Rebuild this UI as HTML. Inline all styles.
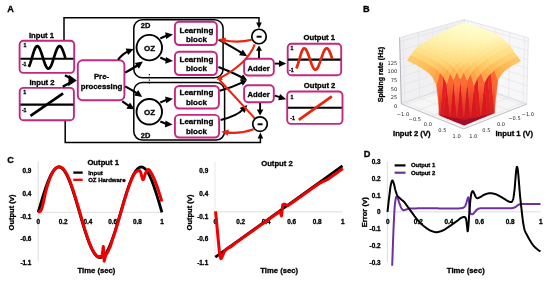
<!DOCTYPE html>
<html><head><meta charset="utf-8"><title>Figure</title>
<style>
html,body{margin:0;padding:0;background:#fff;}
svg{display:block;font-family:"Liberation Sans",sans-serif;}
.dj{font-family:"DejaVu Sans","Liberation Sans",sans-serif;}
</style></head><body>
<svg width="550" height="281" viewBox="0 0 550 281">
<rect width="550" height="281" fill="#fff"/>
<text x="7.20" y="12.00" font-size="9.20" text-anchor="start" font-weight="bold" fill="#000" stroke="#000" stroke-width="0.3" >A</text>
<path d="M64,41 V17.7 H259 V24" fill="none" stroke="#000" stroke-width="1.5"/>
<polygon points="259.00,28.40 256.20,22.60 261.80,22.60" fill="#000"/>
<path d="M65.2,120.4 V142.6 H260.4 V138" fill="none" stroke="#000" stroke-width="1.5"/>
<polygon points="260.40,132.60 263.20,138.40 257.60,138.40" fill="#000"/>
<rect x="133.80" y="19.80" width="89.30" height="58.00" rx="8.50" fill="none" stroke="#000" stroke-width="1.50"/>
<rect x="133.80" y="82.50" width="90.80" height="57.60" rx="8.50" fill="none" stroke="#000" stroke-width="1.50"/>
<path d="M149.3,74 V85" stroke="#000" stroke-width="1.1" stroke-dasharray="1.2,1.6"/>
<text x="140.80" y="27.70" font-size="7.50" text-anchor="start" font-weight="bold" fill="#000" stroke="#000" stroke-width="0.3" >2D</text>
<text x="140.80" y="137.80" font-size="7.50" text-anchor="start" font-weight="bold" fill="#000" stroke="#000" stroke-width="0.3" >2D</text>
<text x="41.50" y="38.30" font-size="7.70" text-anchor="middle" font-weight="bold" fill="#000" stroke="#000" stroke-width="0.3" >Input 1</text>
<rect x="19.60" y="40.70" width="54.60" height="32.20" rx="3.80" fill="#fff" stroke="#c4277f" stroke-width="1.90"/>
<path d="M20.4,58.7 H73.4" stroke="#000" stroke-width="2.1"/>
<path d="M28.80,66.91 L29.26,65.96 L29.71,64.85 L30.17,63.59 L30.63,62.21 L31.09,60.74 L31.55,59.20 L32.00,57.62 L32.46,56.05 L32.92,54.49 L33.38,53.00 L33.83,51.59 L34.29,50.29 L34.75,49.14 L35.20,48.14 L35.66,47.33 L36.12,46.71 L36.58,46.30 L37.04,46.11 L37.49,46.14 L37.95,46.35 L38.41,46.74 L38.87,47.31 L39.32,48.04 L39.78,48.93 L40.24,49.96 L40.70,51.11 L41.15,52.36 L41.61,53.70 L42.07,55.09 L42.53,56.53 L42.98,57.98 L43.44,59.42 L43.90,60.82 L44.36,62.17 L44.81,63.45 L45.27,64.62 L45.73,65.67 L46.19,66.59 L46.64,67.35 L47.10,67.96 L47.56,68.39 L48.02,68.63 L48.47,68.70 L48.93,68.58 L49.39,68.27 L49.84,67.78 L50.30,67.13 L50.76,66.31 L51.22,65.35 L51.68,64.26 L52.13,63.05 L52.59,61.75 L53.05,60.38 L53.51,58.96 L53.96,57.52 L54.42,56.07 L54.88,54.65 L55.34,53.27 L55.79,51.95 L56.25,50.73 L56.71,49.62 L57.17,48.63 L57.62,47.79 L58.08,47.11 L58.54,46.60 L59.00,46.26 L59.45,46.11 L59.91,46.14 L60.37,46.36 L60.83,46.76 L61.28,47.34 L61.74,48.08 L62.20,48.97 L62.66,50.00 L63.11,51.16 L63.57,52.41 L64.03,53.75 L64.49,55.15 L64.94,56.58 L65.40,58.03" fill="none" stroke="#000" stroke-width="2.7" stroke-linecap="butt"/>
<text x="25.00" y="47.00" font-size="5.20" text-anchor="middle" font-weight="bold" fill="#000" stroke="#000" stroke-width="0.3" >1</text>
<text x="24.20" y="65.50" font-size="5.20" text-anchor="middle" font-weight="bold" fill="#000" stroke="#000" stroke-width="0.3" >-1</text>
<text x="42.00" y="84.90" font-size="7.70" text-anchor="middle" font-weight="bold" fill="#000" stroke="#000" stroke-width="0.3" >Input 2</text>
<rect x="19.70" y="87.90" width="54.20" height="32.30" rx="3.80" fill="#fff" stroke="#c4277f" stroke-width="1.90"/>
<path d="M20.4,104.6 H73.4" stroke="#000" stroke-width="2.1"/>
<path d="M30.5,115.8 L63.1,93.4" stroke="#000" stroke-width="2.7"/>
<text x="24.70" y="93.50" font-size="5.20" text-anchor="middle" font-weight="bold" fill="#000" stroke="#000" stroke-width="0.3" >1</text>
<text x="24.20" y="111.60" font-size="5.20" text-anchor="middle" font-weight="bold" fill="#000" stroke="#000" stroke-width="0.3" >-1</text>
<path d="M65,75.3 Q68.5,77.2 72.5,79.6 M62.8,86.6 Q67.5,84.2 72.5,81.2" fill="none" stroke="#000" stroke-width="2.4"/>
<polygon points="76.8,80.4 68.8,74.8 68.2,86.2" fill="#000"/>
<rect x="77.80" y="60.20" width="46.60" height="40.00" rx="5.00" fill="#fff" stroke="#c4277f" stroke-width="1.90"/>
<text x="101.50" y="78.60" font-size="7.80" text-anchor="middle" font-weight="bold" fill="#000" stroke="#000" stroke-width="0.3" >Pre-</text>
<text x="101.50" y="88.50" font-size="7.80" text-anchor="middle" font-weight="bold" fill="#000" stroke="#000" stroke-width="0.3" >processing</text>
<path d="M118.00,59.60 Q123.50,53.00 128.96,50.93" fill="none" stroke="#000" stroke-width="2.20"/><polygon points="133.80,49.10 128.12,54.99 125.64,48.45" fill="#000"/>
<path d="M125.20,72.60 Q134.50,67.50 138.68,64.51" fill="none" stroke="#000" stroke-width="2.20"/><polygon points="142.90,61.50 138.91,68.65 134.84,62.95" fill="#000"/>
<path d="M125.20,86.40 Q134.50,91.50 138.01,94.05" fill="none" stroke="#000" stroke-width="2.20"/><polygon points="142.20,97.10 134.16,95.58 138.27,89.92" fill="#000"/>
<path d="M122.20,101.20 Q128.00,105.50 130.11,106.72" fill="none" stroke="#000" stroke-width="2.20"/><polygon points="134.60,109.30 126.44,108.64 129.93,102.57" fill="#000"/>
<circle cx="149.3" cy="47.60" r="12.75" fill="#fff" stroke="#000" stroke-width="1.9"/>
<text x="149.50" y="50.50" font-size="8.00" text-anchor="middle" font-weight="bold" fill="#000" stroke="#000" stroke-width="0.3" >OZ</text>
<circle cx="149.3" cy="111.80" r="12.75" fill="#fff" stroke="#000" stroke-width="1.9"/>
<text x="149.50" y="114.70" font-size="8.00" text-anchor="middle" font-weight="bold" fill="#000" stroke="#000" stroke-width="0.3" >OZ</text>
<path d="M160.30,38.40 Q166.00,35.60 167.87,35.33" fill="none" stroke="#000" stroke-width="2.20"/><polygon points="173.00,34.60 166.17,39.11 165.18,32.18" fill="#000"/>
<path d="M160.30,57.60 Q166.00,60.40 167.85,60.58" fill="none" stroke="#000" stroke-width="2.20"/><polygon points="173.00,61.10 165.29,63.85 165.98,56.88" fill="#000"/>
<path d="M160.30,102.60 Q166.00,99.80 167.88,99.50" fill="none" stroke="#000" stroke-width="2.20"/><polygon points="173.00,98.70 166.23,103.31 165.15,96.39" fill="#000"/>
<path d="M160.30,121.60 Q166.00,124.00 167.44,124.13" fill="none" stroke="#000" stroke-width="2.20"/><polygon points="172.60,124.60 164.91,127.42 165.55,120.44" fill="#000"/>
<rect x="174.90" y="21.70" width="42.00" height="23.30" rx="4.40" fill="#fff" stroke="#c4277f" stroke-width="1.90"/>
<text x="196.40" y="32.80" font-size="8.00" text-anchor="middle" font-weight="bold" fill="#000" stroke="#000" stroke-width="0.3" >Learning</text>
<text x="196.40" y="41.80" font-size="8.00" text-anchor="middle" font-weight="bold" fill="#000" stroke="#000" stroke-width="0.3" >block</text>
<rect x="174.90" y="51.70" width="42.00" height="23.30" rx="4.40" fill="#fff" stroke="#c4277f" stroke-width="1.90"/>
<text x="196.40" y="62.30" font-size="8.00" text-anchor="middle" font-weight="bold" fill="#000" stroke="#000" stroke-width="0.3" >Learning</text>
<text x="196.40" y="71.30" font-size="8.00" text-anchor="middle" font-weight="bold" fill="#000" stroke="#000" stroke-width="0.3" >block</text>
<rect x="174.90" y="86.00" width="44.00" height="22.50" rx="4.40" fill="#fff" stroke="#c4277f" stroke-width="1.90"/>
<text x="196.40" y="95.40" font-size="8.00" text-anchor="middle" font-weight="bold" fill="#000" stroke="#000" stroke-width="0.3" >Learning</text>
<text x="196.40" y="104.70" font-size="8.00" text-anchor="middle" font-weight="bold" fill="#000" stroke="#000" stroke-width="0.3" >block</text>
<rect x="174.90" y="114.90" width="44.20" height="22.60" rx="4.40" fill="#fff" stroke="#c4277f" stroke-width="1.90"/>
<text x="196.40" y="124.30" font-size="8.00" text-anchor="middle" font-weight="bold" fill="#000" stroke="#000" stroke-width="0.3" >Learning</text>
<text x="196.40" y="133.50" font-size="8.00" text-anchor="middle" font-weight="bold" fill="#000" stroke="#000" stroke-width="0.3" >block</text>
<path d="M218.60,39.60 Q234.00,48.00 242.81,53.54" fill="none" stroke="#000" stroke-width="2.10"/><polygon points="247.20,56.30 239.07,55.32 242.80,49.40" fill="#000"/>
<path d="M218.40,66.90 Q233.00,72.50 243.17,77.95" fill="none" stroke="#000" stroke-width="2.10"/><polygon points="247.00,80.00 240.07,79.80 243.00,74.34" fill="#000"/>
<path d="M219.80,90.80 Q233.00,87.00 243.10,82.10" fill="none" stroke="#000" stroke-width="2.10"/><polygon points="247.00,80.20 242.78,85.70 240.07,80.12" fill="#000"/>
<path d="M220.60,120.00 Q237.00,116.00 243.74,108.86" fill="none" stroke="#000" stroke-width="2.10"/><polygon points="247.30,105.10 244.76,112.88 239.67,108.07" fill="#000"/>
<path d="M251.60,39.80 Q238.00,43.20 223.34,40.21" fill="none" stroke="#e8250f" stroke-width="2.10"/><polygon points="218.40,39.20 226.07,37.60 224.83,43.68" fill="#e8250f"/>
<path d="M254.80,44.40 Q247.00,64.00 219.95,78.06" fill="none" stroke="#e8250f" stroke-width="2.10"/><polygon points="216.60,79.80 220.05,74.74 222.73,79.88" fill="#e8250f"/>
<path d="M219.3,79.8 L255,118.6" stroke="#e8250f" stroke-width="2.1" fill="none"/>
<path d="M253.60,129.20 Q240.00,134.20 226.20,132.36" fill="none" stroke="#e8250f" stroke-width="2.10"/><polygon points="221.20,131.70 228.75,129.58 227.93,135.72" fill="#e8250f"/>
<rect x="244.10" y="58.80" width="29.70" height="16.70" rx="4.00" fill="#fff" stroke="#c4277f" stroke-width="1.90"/>
<text x="258.60" y="70.70" font-size="7.70" text-anchor="middle" font-weight="bold" fill="#000" stroke="#000" stroke-width="0.3" >Adder</text>
<rect x="244.10" y="85.30" width="29.70" height="16.90" rx="4.00" fill="#fff" stroke="#c4277f" stroke-width="1.90"/>
<text x="258.60" y="96.50" font-size="7.70" text-anchor="middle" font-weight="bold" fill="#000" stroke="#000" stroke-width="0.3" >Adder</text>
<path d="M259,58 V50" stroke="#000" stroke-width="1.9"/>
<polygon points="259.00,45.40 262.00,50.80 256.00,50.80" fill="#000"/>
<path d="M260.1,103 V110" stroke="#000" stroke-width="1.9"/>
<polygon points="260.10,115.40 256.80,109.40 263.40,109.40" fill="#000"/>
<circle cx="259.00" cy="36.50" r="7.25" fill="#fff" stroke="#000" stroke-width="1.7"/>
<path d="M256.60,36.70 h5" stroke="#000" stroke-width="1.9"/>
<circle cx="260.00" cy="124.10" r="7.25" fill="#fff" stroke="#000" stroke-width="1.7"/>
<path d="M257.60,124.30 h5" stroke="#000" stroke-width="1.9"/>
<path d="M274.8,63.6 H281" stroke="#000" stroke-width="1.9"/>
<polygon points="286.20,63.60 279.00,66.90 279.00,60.30" fill="#000"/>
<path d="M274.8,95.6 L280.6,97.4" stroke="#000" stroke-width="1.9"/>
<polygon points="286.20,99.20 278.16,100.23 280.06,93.91" fill="#000"/>
<text x="319.30" y="39.50" font-size="7.70" text-anchor="middle" font-weight="bold" fill="#000" stroke="#000" stroke-width="0.3" >Output 1</text>
<rect x="287.70" y="43.70" width="53.50" height="31.50" rx="3.80" fill="#fff" stroke="#c4277f" stroke-width="1.90"/>
<path d="M288,59.6 H340.6" stroke="#000" stroke-width="2.1"/>
<path d="M296.20,68.44 L296.65,67.58 L297.10,66.53 L297.55,65.32 L298.00,63.96 L298.46,62.49 L298.91,60.95 L299.36,59.36 L299.81,57.76 L300.26,56.19 L300.71,54.68 L301.16,53.27 L301.62,51.99 L302.07,50.86 L302.52,49.92 L302.97,49.18 L303.42,48.66 L303.87,48.36 L304.32,48.31 L304.77,48.44 L305.23,48.74 L305.68,49.20 L306.13,49.81 L306.58,50.58 L307.03,51.47 L307.48,52.49 L307.93,53.60 L308.38,54.81 L308.83,56.08 L309.29,57.40 L309.74,58.74 L310.19,60.09 L310.64,61.41 L311.09,62.71 L311.54,63.94 L311.99,65.09 L312.44,66.15 L312.90,67.09 L313.35,67.91 L313.80,68.58 L314.25,69.10 L314.70,69.47 L315.15,69.66 L315.60,69.69 L316.06,69.55 L316.51,69.24 L316.96,68.77 L317.41,68.14 L317.86,67.37 L318.31,66.46 L318.76,65.44 L319.21,64.31 L319.67,63.11 L320.12,61.83 L320.57,60.51 L321.02,59.17 L321.47,57.82 L321.92,56.49 L322.37,55.21 L322.82,53.98 L323.27,52.83 L323.73,51.78 L324.18,50.85 L324.63,50.04 L325.08,49.38 L325.53,48.86 L325.98,48.51 L326.43,48.33 L326.88,48.31 L327.34,48.47 L327.79,48.79 L328.24,49.27 L328.69,49.91 L329.14,50.69 L329.59,51.60 L330.04,52.64 L330.50,53.77 L330.95,54.98 L331.40,56.26 L331.85,57.58 L332.30,58.93" fill="none" stroke="#e8250f" stroke-width="2.7"/>
<text x="292.00" y="50.20" font-size="5.20" text-anchor="middle" font-weight="bold" fill="#000" stroke="#000" stroke-width="0.3" >1</text>
<text x="291.40" y="71.60" font-size="5.20" text-anchor="middle" font-weight="bold" fill="#000" stroke="#000" stroke-width="0.3" >-1</text>
<text x="319.60" y="88.40" font-size="7.70" text-anchor="middle" font-weight="bold" fill="#000" stroke="#000" stroke-width="0.3" >Output 2</text>
<rect x="287.20" y="91.50" width="55.30" height="32.40" rx="3.80" fill="#fff" stroke="#c4277f" stroke-width="1.90"/>
<path d="M288,107.8 H341.8" stroke="#000" stroke-width="2.1"/>
<path d="M298.8,119.8 L331.8,96.3" stroke="#e8250f" stroke-width="2.8"/>
<text x="292.00" y="98.60" font-size="5.20" text-anchor="middle" font-weight="bold" fill="#000" stroke="#000" stroke-width="0.3" >1</text>
<text x="292.50" y="120.30" font-size="5.20" text-anchor="middle" font-weight="bold" fill="#000" stroke="#000" stroke-width="0.3" >-1</text>
<text x="7.20" y="162.70" font-size="9.20" text-anchor="start" font-weight="bold" fill="#000" stroke="#000" stroke-width="0.3" >C</text>
<path d="M38.2,161.6 V261.5" stroke="#d4d4d4" stroke-width="0.8"/>
<path d="M38.2,212.3 H162" stroke="#d4d4d4" stroke-width="0.8"/>
<text x="31.40" y="173.10" font-size="6.40" text-anchor="end" font-weight="bold" fill="#000" stroke="#000" stroke-width="0.3" >0.9</text>
<text x="31.40" y="195.50" font-size="6.40" text-anchor="end" font-weight="bold" fill="#000" stroke="#000" stroke-width="0.3" >0.4</text>
<text x="31.40" y="218.90" font-size="6.40" text-anchor="end" font-weight="bold" fill="#000" stroke="#000" stroke-width="0.3" >-0.1</text>
<text x="31.40" y="241.00" font-size="6.40" text-anchor="end" font-weight="bold" fill="#000" stroke="#000" stroke-width="0.3" >-0.6</text>
<text x="31.40" y="264.70" font-size="6.40" text-anchor="end" font-weight="bold" fill="#000" stroke="#000" stroke-width="0.3" >-1.1</text>
<text x="38.40" y="224.20" font-size="6.40" text-anchor="middle" font-weight="bold" fill="#000" stroke="#000" stroke-width="0.3" >0</text>
<text x="63.14" y="224.20" font-size="6.40" text-anchor="middle" font-weight="bold" fill="#000" stroke="#000" stroke-width="0.3" >0.2</text>
<text x="87.88" y="224.20" font-size="6.40" text-anchor="middle" font-weight="bold" fill="#000" stroke="#000" stroke-width="0.3" >0.4</text>
<text x="112.62" y="224.20" font-size="6.40" text-anchor="middle" font-weight="bold" fill="#000" stroke="#000" stroke-width="0.3" >0.6</text>
<text x="137.36" y="224.20" font-size="6.40" text-anchor="middle" font-weight="bold" fill="#000" stroke="#000" stroke-width="0.3" >0.8</text>
<text x="162.10" y="224.20" font-size="6.40" text-anchor="middle" font-weight="bold" fill="#000" stroke="#000" stroke-width="0.3" >1</text>
<text x="0.00" y="0.00" font-size="7.50" text-anchor="middle" font-weight="bold" fill="#000" stroke="#000" stroke-width="0.3" transform="translate(13.6,212.5) rotate(-90)">Output (v)</text>
<text x="96.40" y="272.70" font-size="7.70" text-anchor="middle" font-weight="bold" fill="#000" stroke="#000" stroke-width="0.3" >Time (sec)</text>
<text x="103.20" y="165.30" font-size="7.70" text-anchor="middle" font-weight="bold" fill="#000" stroke="#000" stroke-width="0.3" >Output 1</text>
<path d="M73.3,172.6 H82.7" stroke="#000" stroke-width="2.3"/>
<path d="M73.3,179.8 H82.7" stroke="#f00000" stroke-width="2.3"/>
<text x="88.20" y="174.60" font-size="6.00" text-anchor="start" font-weight="bold" fill="#000" stroke="#000" stroke-width="0.3" >Input</text>
<text x="88.20" y="181.90" font-size="6.00" text-anchor="start" font-weight="bold" fill="#000" stroke="#000" stroke-width="0.3" >OZ Hardware</text>
<path d="M38.20,212.30 L38.45,211.44 L38.70,210.59 L38.94,209.73 L39.19,208.88 L39.44,208.03 L39.69,207.18 L39.94,206.33 L40.18,205.48 L40.43,204.64 L40.68,203.79 L40.93,202.96 L41.17,202.12 L41.42,201.29 L41.67,200.46 L41.92,199.64 L42.17,198.82 L42.41,198.00 L42.66,197.19 L42.91,196.39 L43.16,195.59 L43.41,194.80 L43.65,194.01 L43.90,193.23 L44.15,192.46 L44.40,191.70 L44.65,190.94 L44.89,190.19 L45.14,189.44 L45.39,188.71 L45.64,187.98 L45.88,187.27 L46.13,186.56 L46.38,185.86 L46.63,185.17 L46.88,184.49 L47.12,183.82 L47.37,183.16 L47.62,182.51 L47.87,181.87 L48.12,181.24 L48.36,180.62 L48.61,180.02 L48.86,179.42 L49.11,178.84 L49.36,178.27 L49.60,177.71 L49.85,177.16 L50.10,176.63 L50.35,176.11 L50.59,175.60 L50.84,175.11 L51.09,174.62 L51.34,174.16 L51.59,173.70 L51.83,173.26 L52.08,172.83 L52.33,172.42 L52.58,172.02 L52.83,171.64 L53.07,171.27 L53.32,170.91 L53.57,170.57 L53.82,170.25 L54.07,169.94 L54.31,169.64 L54.56,169.36 L54.81,169.10 L55.06,168.85 L55.30,168.61 L55.55,168.39 L55.80,168.19 L56.05,168.00 L56.30,167.83 L56.54,167.68 L56.79,167.54 L57.04,167.41 L57.29,167.31 L57.54,167.22 L57.78,167.14 L58.03,167.08 L58.28,167.04 L58.53,167.01 L58.78,167.00 L59.02,167.01 L59.27,167.03 L59.52,167.06 L59.77,167.12 L60.01,167.19 L60.26,167.27 L60.51,167.38 L60.76,167.49 L61.01,167.63 L61.25,167.78 L61.50,167.94 L61.75,168.13 L62.00,168.32 L62.25,168.54 L62.49,168.77 L62.74,169.01 L62.99,169.27 L63.24,169.55 L63.49,169.84 L63.73,170.14 L63.98,170.46 L64.23,170.80 L64.48,171.15 L64.72,171.51 L64.97,171.89 L65.22,172.29 L65.47,172.69 L65.72,173.12 L65.96,173.55 L66.21,174.00 L66.46,174.47 L66.71,174.94 L66.96,175.43 L67.20,175.94 L67.45,176.46 L67.70,176.98 L67.95,177.53 L68.20,178.08 L68.44,178.65 L68.69,179.23 L68.94,179.82 L69.19,180.42 L69.43,181.03 L69.68,181.66 L69.93,182.29 L70.18,182.94 L70.43,183.60 L70.67,184.26 L70.92,184.94 L71.17,185.63 L71.42,186.32 L71.67,187.03 L71.91,187.74 L72.16,188.47 L72.41,189.20 L72.66,189.94 L72.91,190.69 L73.15,191.44 L73.40,192.21 L73.65,192.98 L73.90,193.75 L74.14,194.54 L74.39,195.33 L74.64,196.12 L74.89,196.93 L75.14,197.73 L75.38,198.55 L75.63,199.36 L75.88,200.19 L76.13,201.01 L76.38,201.84 L76.62,202.68 L76.87,203.51 L77.12,204.36 L77.37,205.20 L77.62,206.05 L77.86,206.89 L78.11,207.74 L78.36,208.60 L78.61,209.45 L78.85,210.30 L79.10,211.16 L79.35,212.01 L79.60,212.87 L79.85,213.73 L80.09,214.58 L80.34,215.43 L80.59,216.29 L80.84,217.14 L81.09,217.99 L81.33,218.84 L81.58,219.68 L81.83,220.52 L82.08,221.36 L82.33,222.20 L82.57,223.03 L82.82,223.86 L83.07,224.69 L83.32,225.51 L83.56,226.33 L83.81,227.14 L84.06,227.94 L84.31,228.74 L84.56,229.54 L84.80,230.32 L85.05,231.11 L85.30,231.88 L85.55,232.65 L85.80,233.41 L86.04,234.16 L86.29,234.91 L86.54,235.65 L86.79,236.38 L87.04,237.10 L87.28,237.81 L87.53,238.51 L87.78,239.20 L88.03,239.89 L88.27,240.56 L88.52,241.22 L88.77,241.88 L89.02,242.52 L89.27,243.15 L89.51,243.77 L89.76,244.38 L90.01,244.98 L90.26,245.57 L90.51,246.14 L90.75,246.70 L91.00,247.26 L91.25,247.79 L91.50,248.32 L91.75,248.83 L91.99,249.33 L92.24,249.82 L92.49,250.29 L92.74,250.75 L92.98,251.19 L93.23,251.63 L93.48,252.04 L93.73,252.45 L93.98,252.84 L94.22,253.21 L94.47,253.57 L94.72,253.92 L94.97,254.25 L95.22,254.56 L95.46,254.86 L95.71,255.15 L95.96,255.42 L96.21,255.67 L96.46,255.91 L96.70,256.14 L96.95,256.34 L97.20,256.54 L97.45,256.71 L97.69,256.87 L97.94,257.02 L98.19,257.15 L98.44,257.26 L98.69,257.36 L98.93,257.44 L99.18,257.50 L99.43,257.55 L99.68,257.58 L99.93,257.60 L100.17,257.60 L100.42,257.58 L100.67,257.55 L100.92,257.50 L101.17,257.44 L101.41,257.36 L101.66,257.26 L101.91,257.15 L102.16,257.02 L102.41,256.87 L102.65,256.71 L102.90,256.54 L103.15,256.34 L103.40,256.14 L103.64,255.91 L103.89,255.67 L104.14,255.42 L104.39,255.15 L104.64,254.86 L104.88,254.56 L105.13,254.25 L105.38,253.92 L105.63,253.57 L105.88,253.21 L106.12,252.84 L106.37,252.45 L106.62,252.04 L106.87,251.63 L107.12,251.19 L107.36,250.75 L107.61,250.29 L107.86,249.82 L108.11,249.33 L108.35,248.83 L108.60,248.32 L108.85,247.79 L109.10,247.26 L109.35,246.70 L109.59,246.14 L109.84,245.57 L110.09,244.98 L110.34,244.38 L110.59,243.77 L110.83,243.15 L111.08,242.52 L111.33,241.88 L111.58,241.22 L111.83,240.56 L112.07,239.89 L112.32,239.20 L112.57,238.51 L112.82,237.81 L113.06,237.10 L113.31,236.38 L113.56,235.65 L113.81,234.91 L114.06,234.16 L114.30,233.41 L114.55,232.65 L114.80,231.88 L115.05,231.11 L115.30,230.32 L115.54,229.54 L115.79,228.74 L116.04,227.94 L116.29,227.14 L116.54,226.33 L116.78,225.51 L117.03,224.69 L117.28,223.86 L117.53,223.03 L117.77,222.20 L118.02,221.36 L118.27,220.52 L118.52,219.68 L118.77,218.84 L119.01,217.99 L119.26,217.14 L119.51,216.29 L119.76,215.43 L120.01,214.58 L120.25,213.73 L120.50,212.87 L120.75,212.01 L121.00,211.16 L121.25,210.30 L121.49,209.45 L121.74,208.60 L121.99,207.74 L122.24,206.89 L122.48,206.05 L122.73,205.20 L122.98,204.36 L123.23,203.51 L123.48,202.68 L123.72,201.84 L123.97,201.01 L124.22,200.19 L124.47,199.36 L124.72,198.55 L124.96,197.73 L125.21,196.93 L125.46,196.12 L125.71,195.33 L125.96,194.54 L126.20,193.75 L126.45,192.98 L126.70,192.21 L126.95,191.44 L127.19,190.69 L127.44,189.94 L127.69,189.20 L127.94,188.47 L128.19,187.74 L128.43,187.03 L128.68,186.32 L128.93,185.63 L129.18,184.94 L129.43,184.26 L129.67,183.60 L129.92,182.94 L130.17,182.29 L130.42,181.66 L130.67,181.03 L130.91,180.42 L131.16,179.82 L131.41,179.23 L131.66,178.65 L131.90,178.08 L132.15,177.53 L132.40,176.98 L132.65,176.46 L132.90,175.94 L133.14,175.43 L133.39,174.94 L133.64,174.47 L133.89,174.00 L134.14,173.55 L134.38,173.12 L134.63,172.69 L134.88,172.29 L135.13,171.89 L135.38,171.51 L135.62,171.15 L135.87,170.80 L136.12,170.46 L136.37,170.14 L136.61,169.84 L136.86,169.55 L137.11,169.27 L137.36,169.01 L137.61,168.77 L137.85,168.54 L138.10,168.32 L138.35,168.13 L138.60,167.94 L138.85,167.78 L139.09,167.63 L139.34,167.49 L139.59,167.38 L139.84,167.27 L140.09,167.19 L140.33,167.12 L140.58,167.06 L140.83,167.03 L141.08,167.01 L141.32,167.00 L141.57,167.01 L141.82,167.04 L142.07,167.08 L142.32,167.14 L142.56,167.22 L142.81,167.31 L143.06,167.41 L143.31,167.54 L143.56,167.68 L143.80,167.83 L144.05,168.00 L144.30,168.19 L144.55,168.39 L144.80,168.61 L145.04,168.85 L145.29,169.10 L145.54,169.36 L145.79,169.64 L146.03,169.94 L146.28,170.25 L146.53,170.57 L146.78,170.91 L147.03,171.27 L147.27,171.64 L147.52,172.02 L147.77,172.42 L148.02,172.83 L148.27,173.26 L148.51,173.70 L148.76,174.16 L149.01,174.62 L149.26,175.11 L149.51,175.60 L149.75,176.11 L150.00,176.63 L150.25,177.16 L150.50,177.71 L150.74,178.27 L150.99,178.84 L151.24,179.42 L151.49,180.02 L151.74,180.62 L151.98,181.24 L152.23,181.87 L152.48,182.51 L152.73,183.16 L152.98,183.82 L153.22,184.49 L153.47,185.17 L153.72,185.86 L153.97,186.56 L154.22,187.27 L154.46,187.98 L154.71,188.71 L154.96,189.44 L155.21,190.19 L155.45,190.94 L155.70,191.70 L155.95,192.46 L156.20,193.23 L156.45,194.01 L156.69,194.80 L156.94,195.59 L157.19,196.39 L157.44,197.19 L157.69,198.00 L157.93,198.82 L158.18,199.64 L158.43,200.46 L158.68,201.29 L158.93,202.12 L159.17,202.96 L159.42,203.79 L159.67,204.64 L159.92,205.48 L160.16,206.33 L160.41,207.18 L160.66,208.03 L160.91,208.88 L161.16,209.73 L161.40,210.59 L161.65,211.44 L161.90,212.30" fill="none" stroke="#000" stroke-width="2.8" stroke-linejoin="round"/>
<path d="M38.20,212.30 L38.45,212.21 L38.70,212.10 L38.94,211.98 L39.19,211.84 L39.44,211.68 L39.69,211.50 L39.94,211.36 L40.18,211.22 L40.43,211.03 L40.68,210.74 L40.93,210.31 L41.17,209.84 L41.42,209.34 L41.67,208.78 L41.92,208.12 L42.17,207.33 L42.41,206.43 L42.66,205.45 L42.91,204.43 L43.16,203.40 L43.41,202.36 L43.65,201.26 L43.90,200.11 L44.15,198.95 L44.40,197.81 L44.65,196.58 L44.89,195.43 L45.14,194.30 L45.39,193.22 L45.64,192.17 L45.88,191.16 L46.13,190.20 L46.38,189.28 L46.63,188.39 L46.88,187.53 L47.12,186.68 L47.37,185.86 L47.62,185.05 L47.87,184.27 L48.12,183.49 L48.36,182.74 L48.61,181.99 L48.86,181.27 L49.11,180.56 L49.36,179.86 L49.60,179.19 L49.85,178.53 L50.10,177.88 L50.35,177.26 L50.59,176.65 L50.84,176.13 L51.09,175.61 L51.34,175.11 L51.59,174.62 L51.83,174.14 L52.08,173.67 L52.33,173.22 L52.58,172.78 L52.83,172.35 L53.07,171.93 L53.32,171.54 L53.57,171.15 L53.82,170.78 L54.07,170.43 L54.31,170.10 L54.56,169.78 L54.81,169.48 L55.06,169.19 L55.30,168.92 L55.55,168.66 L55.80,168.42 L56.05,168.20 L56.30,168.00 L56.54,167.81 L56.79,167.63 L57.04,167.48 L57.29,167.34 L57.54,167.21 L57.78,167.11 L58.03,167.02 L58.28,166.94 L58.53,166.89 L58.78,166.85 L59.02,166.82 L59.27,166.82 L59.52,166.83 L59.77,166.85 L60.01,166.89 L60.26,166.95 L60.51,167.03 L60.76,167.12 L61.01,167.23 L61.25,167.35 L61.50,167.49 L61.75,167.65 L62.00,167.82 L62.25,168.01 L62.49,168.21 L62.74,168.43 L62.99,168.67 L63.24,168.92 L63.49,169.19 L63.73,169.47 L63.98,169.77 L64.23,170.09 L64.48,170.42 L64.72,170.76 L64.97,171.12 L65.22,171.49 L65.47,171.88 L65.72,172.28 L65.96,172.70 L66.21,173.13 L66.46,173.58 L66.71,174.04 L66.96,174.51 L67.20,175.00 L67.45,175.49 L67.70,176.01 L67.95,176.53 L68.20,177.07 L68.44,177.62 L68.69,178.19 L68.94,178.76 L69.19,179.35 L69.43,179.94 L69.68,180.55 L69.93,181.17 L70.18,181.81 L70.43,182.45 L70.67,183.10 L70.92,183.76 L71.17,184.44 L71.42,185.12 L71.67,185.81 L71.91,186.51 L72.16,187.22 L72.41,187.95 L72.66,188.68 L72.91,189.41 L73.15,190.16 L73.40,190.92 L73.65,191.68 L73.90,192.45 L74.14,193.23 L74.39,194.01 L74.64,194.80 L74.89,195.59 L75.14,196.39 L75.38,197.20 L75.63,198.01 L75.88,198.83 L76.13,199.65 L76.38,200.47 L76.62,201.30 L76.87,202.14 L77.12,202.98 L77.37,203.82 L77.62,204.66 L77.86,205.51 L78.11,206.36 L78.36,207.22 L78.61,208.07 L78.85,208.93 L79.10,209.79 L79.35,210.65 L79.60,211.51 L79.85,212.37 L80.09,213.23 L80.34,214.09 L80.59,214.95 L80.84,215.81 L81.09,216.67 L81.33,217.52 L81.58,218.37 L81.83,219.22 L82.08,220.07 L82.33,220.91 L82.57,221.76 L82.82,222.59 L83.07,223.43 L83.32,224.26 L83.56,225.09 L83.81,225.91 L84.06,226.72 L84.31,227.54 L84.56,228.34 L84.80,229.14 L85.05,229.94 L85.30,230.73 L85.55,231.51 L85.80,232.28 L86.04,233.05 L86.29,233.81 L86.54,234.56 L86.79,235.31 L87.04,236.04 L87.28,236.77 L87.53,237.49 L87.78,238.19 L88.03,238.89 L88.27,239.58 L88.52,240.26 L88.77,240.92 L89.02,241.58 L89.27,242.23 L89.51,242.86 L89.76,243.48 L90.01,244.10 L90.26,244.70 L90.51,245.29 L90.75,245.86 L91.00,246.43 L91.25,246.98 L91.50,247.52 L91.75,248.05 L91.99,248.56 L92.24,249.06 L92.49,249.55 L92.74,250.03 L92.98,250.49 L93.23,250.93 L93.48,251.37 L93.73,251.78 L93.98,252.19 L94.22,252.58 L94.47,252.95 L94.72,253.31 L94.97,253.66 L95.22,253.99 L95.46,254.31 L95.71,254.61 L95.96,254.90 L96.21,255.17 L96.46,255.42 L96.70,255.66 L96.95,255.89 L97.20,256.09 L97.45,256.28 L97.69,256.46 L97.94,256.61 L98.19,256.75 L98.44,256.87 L98.69,256.98 L98.93,257.01 L99.18,256.97 L99.43,256.92 L99.60,256.40 L101.40,257.00 L102.30,254.50 L102.90,249.50 L103.30,246.40 L103.60,250.00 L103.90,257.00 L104.20,261.20 L104.70,259.00 L105.50,256.00 L106.40,254.20 L107.30,252.70 L108.60,250.20 L110.00,247.00 L110.09,247.19 L110.34,246.40 L110.59,245.61 L110.83,244.84 L111.08,244.06 L111.33,243.27 L111.58,242.48 L111.83,241.68 L112.07,240.86 L112.32,240.04 L112.57,239.29 L112.82,238.59 L113.06,237.89 L113.31,237.18 L113.56,236.46 L113.81,235.73 L114.06,234.99 L114.30,234.25 L114.55,233.50 L114.80,232.74 L115.05,231.98 L115.30,231.21 L115.54,230.43 L115.79,229.65 L116.04,228.86 L116.29,228.06 L116.54,227.26 L116.78,226.45 L117.03,225.63 L117.28,224.81 L117.53,223.99 L117.77,223.16 L118.02,222.33 L118.27,221.50 L118.52,220.66 L118.77,219.82 L119.01,218.98 L119.26,218.13 L119.51,217.28 L119.76,216.43 L120.01,215.58 L120.25,214.73 L120.50,213.88 L120.75,213.02 L121.00,212.17 L121.25,211.31 L121.49,210.46 L121.74,209.60 L121.99,208.75 L122.24,207.90 L122.48,207.05 L122.73,206.20 L122.98,205.35 L123.23,204.51 L123.48,203.67 L123.72,202.83 L123.97,202.00 L124.22,201.17 L124.47,200.34 L124.72,199.52 L124.96,198.70 L125.21,197.89 L125.46,197.08 L125.71,196.28 L125.96,195.49 L126.20,194.69 L126.45,193.91 L126.70,193.13 L126.95,192.36 L127.19,191.60 L127.44,190.84 L127.69,190.09 L127.94,189.35 L128.19,188.62 L128.43,187.90 L128.68,187.18 L128.93,186.48 L129.18,185.78 L129.43,185.09 L129.67,184.42 L129.92,183.75 L130.17,183.10 L130.42,182.45 L130.67,181.82 L130.91,181.19 L131.16,180.58 L131.41,179.98 L131.66,179.39 L131.90,178.81 L132.15,178.25 L132.40,177.70 L132.65,177.16 L132.90,176.63 L133.14,176.12 L133.39,175.61 L133.64,175.13 L133.89,174.65 L134.14,174.19 L134.38,173.74 L134.63,173.31 L134.88,173.02 L135.13,172.77 L135.38,172.53 L135.62,172.31 L135.87,172.09 L136.12,171.89 L136.37,171.70 L136.61,171.53 L136.86,171.37 L137.11,171.22 L137.36,171.09 L137.61,170.97 L137.85,170.87 L138.10,170.79 L138.35,170.73 L138.60,170.62 L138.85,170.55 L139.09,170.54 L139.34,170.57 L139.59,170.65 L139.84,170.80 L140.09,171.12 L140.33,171.58 L140.58,172.16 L140.83,172.80 L141.08,173.58 L141.32,174.59 L141.57,175.68 L141.82,176.67 L142.07,177.67 L142.32,178.53 L142.56,179.09 L142.81,179.48 L143.06,179.56 L143.31,179.39 L143.56,179.11 L143.80,178.51 L144.05,177.72 L144.30,176.95 L144.55,176.10 L144.80,175.22 L145.04,174.41 L145.29,173.74 L145.54,173.16 L145.79,172.63 L146.03,172.16 L146.28,171.73 L146.53,171.33 L146.78,170.95 L147.03,170.57 L147.27,170.21 L147.52,169.91 L147.77,169.69 L148.02,169.59 L148.27,169.55 L148.51,169.56 L148.76,169.63 L149.01,169.77 L149.26,169.99 L149.51,170.26 L149.75,170.58 L150.00,170.94 L150.25,171.32 L150.50,171.72 L150.74,172.13 L150.99,172.54 L151.24,172.96 L151.49,173.40 L151.74,173.85 L151.98,174.31 L152.23,174.78 L152.48,175.27 L152.73,175.77 L152.98,176.28 L153.22,176.81 L153.47,177.35 L153.72,177.90 L153.97,178.47 L154.22,179.04 L154.46,179.63 L154.71,180.23 L154.96,180.84 L155.21,181.46 L155.45,182.10 L155.70,182.75 L155.95,183.41 L156.20,184.08 L156.45,184.77 L156.69,185.46 L156.94,186.16 L157.19,186.87 L157.44,187.59 L157.69,188.32 L157.93,189.05 L158.18,189.80 L158.43,190.55 L158.68,191.30 L158.93,192.07 L159.17,192.83 L159.42,193.60 L159.67,194.38 L159.92,195.16 L160.16,195.95 L160.41,196.74 L160.66,197.53 L160.91,198.32 L161.16,199.12 L161.40,199.93 L161.65,200.73 L161.90,201.54" fill="none" stroke="#f00000" stroke-width="3.0" stroke-linejoin="round"/>
<path d="M215.0,161.8 V257" stroke="#e2e2e2" stroke-width="0.8"/>
<path d="M215.0,211.8 H342.4" stroke="#d4d4d4" stroke-width="0.8"/>
<text x="208.20" y="173.20" font-size="6.40" text-anchor="end" font-weight="bold" fill="#000" stroke="#000" stroke-width="0.3" >0.9</text>
<text x="208.20" y="195.90" font-size="6.40" text-anchor="end" font-weight="bold" fill="#000" stroke="#000" stroke-width="0.3" >0.4</text>
<text x="208.20" y="219.10" font-size="6.40" text-anchor="end" font-weight="bold" fill="#000" stroke="#000" stroke-width="0.3" >-0.1</text>
<text x="208.20" y="241.30" font-size="6.40" text-anchor="end" font-weight="bold" fill="#000" stroke="#000" stroke-width="0.3" >-0.6</text>
<text x="208.20" y="264.70" font-size="6.40" text-anchor="end" font-weight="bold" fill="#000" stroke="#000" stroke-width="0.3" >-1.1</text>
<text x="215.20" y="224.00" font-size="6.40" text-anchor="middle" font-weight="bold" fill="#000" stroke="#000" stroke-width="0.3" >0</text>
<text x="240.70" y="224.00" font-size="6.40" text-anchor="middle" font-weight="bold" fill="#000" stroke="#000" stroke-width="0.3" >0.2</text>
<text x="266.20" y="224.00" font-size="6.40" text-anchor="middle" font-weight="bold" fill="#000" stroke="#000" stroke-width="0.3" >0.4</text>
<text x="291.70" y="224.00" font-size="6.40" text-anchor="middle" font-weight="bold" fill="#000" stroke="#000" stroke-width="0.3" >0.6</text>
<text x="317.20" y="224.00" font-size="6.40" text-anchor="middle" font-weight="bold" fill="#000" stroke="#000" stroke-width="0.3" >0.8</text>
<text x="342.70" y="224.00" font-size="6.40" text-anchor="middle" font-weight="bold" fill="#000" stroke="#000" stroke-width="0.3" >1</text>
<text x="0.00" y="0.00" font-size="7.50" text-anchor="middle" font-weight="bold" fill="#000" stroke="#000" stroke-width="0.3" transform="translate(191.6,212.5) rotate(-90)">Output (v)</text>
<text x="279.20" y="272.70" font-size="7.70" text-anchor="middle" font-weight="bold" fill="#000" stroke="#000" stroke-width="0.3" >Time (sec)</text>
<text x="277.00" y="165.50" font-size="7.70" text-anchor="middle" font-weight="bold" fill="#000" stroke="#000" stroke-width="0.3" >Output 2</text>
<path d="M215.30,257.20 L342.50,165.80" stroke="#000" stroke-width="2.8"/>
<path d="M215.50,211.40 L216.50,221.00 L218.00,237.50 L219.30,250.50 L220.10,256.60 L220.90,258.60 L221.70,258.00 L222.80,255.20 L224.60,251.20 L227.30,248.40 L230.00,246.70 L230.22,247.13 L230.48,246.96 L230.73,246.78 L230.99,246.59 L231.24,246.41 L231.50,246.23 L231.75,246.05 L232.01,245.86 L232.26,245.68 L232.52,245.49 L232.77,245.30 L233.03,245.10 L233.29,244.90 L233.54,244.70 L233.80,244.49 L234.05,244.28 L234.31,244.08 L234.56,243.87 L234.82,243.66 L235.07,243.45 L235.33,243.24 L235.59,243.03 L235.84,242.82 L236.10,242.64 L236.35,242.46 L236.61,242.28 L236.86,242.10 L237.12,241.92 L237.37,241.73 L237.63,241.55 L237.88,241.37 L238.14,241.19 L238.40,241.01 L238.65,240.83 L238.91,240.64 L239.16,240.46 L239.42,240.28 L239.67,240.10 L239.93,239.92 L240.18,239.74 L240.44,239.55 L240.70,239.37 L240.95,239.19 L241.21,239.01 L241.46,238.83 L241.72,238.65 L241.97,238.46 L242.23,238.28 L242.48,238.10 L242.74,237.92 L243.00,237.74 L243.25,237.55 L243.51,237.37 L243.76,237.19 L244.02,237.01 L244.27,236.83 L244.53,236.64 L244.78,236.46 L245.04,236.28 L245.29,236.10 L245.55,235.92 L245.81,235.74 L246.06,235.55 L246.32,235.37 L246.57,235.19 L246.83,235.01 L247.08,234.83 L247.34,234.64 L247.59,234.46 L247.85,234.28 L248.11,234.10 L248.36,233.92 L248.62,233.73 L248.87,233.55 L249.13,233.37 L249.38,233.19 L249.64,233.01 L249.89,232.83 L250.15,232.64 L250.41,232.46 L250.66,232.28 L250.92,232.10 L251.17,231.92 L251.43,231.73 L251.68,231.55 L251.94,231.37 L252.19,231.19 L252.45,231.01 L252.70,230.82 L252.96,230.64 L253.22,230.46 L253.47,230.28 L253.73,230.09 L253.98,229.91 L254.24,229.73 L254.49,229.55 L254.75,229.37 L255.00,229.18 L255.26,229.00 L255.52,228.82 L255.77,228.64 L256.03,228.46 L256.28,228.27 L256.54,228.09 L256.79,227.91 L257.05,227.73 L257.30,227.54 L257.56,227.36 L257.81,227.18 L258.07,227.00 L258.33,226.82 L258.58,226.63 L258.84,226.45 L259.09,226.27 L259.35,226.09 L259.60,225.90 L259.86,225.72 L260.11,225.54 L260.37,225.36 L260.63,225.18 L260.88,224.99 L261.14,224.81 L261.39,224.63 L261.65,224.45 L261.90,224.26 L262.16,224.08 L262.41,223.90 L262.67,223.72 L262.93,223.54 L263.18,223.35 L263.44,223.17 L263.69,222.99 L263.95,222.81 L264.20,222.63 L264.46,222.44 L264.71,222.26 L264.97,222.08 L265.22,221.90 L265.48,221.71 L265.74,221.53 L265.99,221.35 L266.25,221.17 L266.50,220.99 L266.76,220.80 L267.01,220.62 L267.27,220.44 L267.52,220.26 L267.78,220.08 L268.04,219.89 L268.29,219.71 L268.55,219.53 L268.80,219.35 L269.06,219.17 L269.31,218.99 L269.57,218.80 L269.82,218.62 L270.08,218.44 L270.33,218.26 L270.59,218.08 L270.85,217.89 L271.10,217.71 L271.36,217.53 L271.61,217.35 L271.87,217.17 L272.12,216.99 L272.38,216.80 L272.63,216.62 L272.89,216.44 L273.15,216.26 L273.40,216.08 L273.66,215.90 L273.91,215.71 L274.17,215.53 L274.42,215.35 L274.68,215.17 L274.93,214.99 L275.19,214.81 L275.45,214.62 L275.70,214.44 L275.96,214.26 L276.21,214.08 L276.47,213.90 L276.72,213.72 L276.98,213.54 L277.23,213.36 L277.49,213.18 L277.74,213.01 L278.00,212.83 L278.26,212.65 L278.51,212.48 L278.77,212.30 L279.02,212.13 L279.28,211.96 L279.30,211.60 L280.60,213.40 L281.50,215.90 L282.00,212.00 L282.40,207.20 L282.80,204.60 L284.00,204.10 L285.50,204.50 L287.30,205.40 L287.45,205.82 L287.71,205.65 L287.97,205.49 L288.22,205.33 L288.48,205.17 L288.73,205.01 L288.99,204.85 L289.24,204.69 L289.50,204.52 L289.75,204.36 L290.01,204.19 L290.26,204.02 L290.52,203.85 L290.78,203.67 L291.03,203.50 L291.29,203.33 L291.54,203.15 L291.80,202.98 L292.05,202.80 L292.31,202.61 L292.56,202.43 L292.82,202.25 L293.08,202.07 L293.33,201.89 L293.59,201.71 L293.84,201.53 L294.10,201.35 L294.35,201.17 L294.61,200.98 L294.86,200.80 L295.12,200.62 L295.37,200.44 L295.63,200.26 L295.89,200.08 L296.14,199.90 L296.40,199.71 L296.65,199.53 L296.91,199.35 L297.16,199.17 L297.42,198.99 L297.67,198.80 L297.93,198.62 L298.19,198.44 L298.44,198.26 L298.70,198.08 L298.95,197.89 L299.21,197.71 L299.46,197.53 L299.72,197.35 L299.97,197.16 L300.23,196.98 L300.49,196.80 L300.74,196.62 L301.00,196.44 L301.25,196.25 L301.51,196.07 L301.76,195.89 L302.02,195.71 L302.27,195.53 L302.53,195.34 L302.78,195.16 L303.04,194.98 L303.30,194.80 L303.55,194.62 L303.81,194.43 L304.06,194.25 L304.32,194.07 L304.57,193.89 L304.83,193.70 L305.08,193.52 L305.34,193.34 L305.60,193.16 L305.85,192.98 L306.11,192.79 L306.36,192.61 L306.62,192.43 L306.87,192.25 L307.13,192.07 L307.38,191.88 L307.64,191.70 L307.89,191.52 L308.15,191.34 L308.41,191.16 L308.66,190.97 L308.92,190.79 L309.17,190.61 L309.43,190.43 L309.68,190.25 L309.94,190.06 L310.19,189.88 L310.45,189.70 L310.71,189.52 L310.96,189.34 L311.22,189.15 L311.47,188.97 L311.73,188.79 L311.98,188.61 L312.24,188.43 L312.49,188.24 L312.75,188.06 L313.01,187.88 L313.26,187.70 L313.52,187.52 L313.77,187.33 L314.03,187.15 L314.28,186.97 L314.54,186.79 L314.79,186.61 L315.05,186.42 L315.30,186.24 L315.56,186.06 L315.82,185.88 L316.07,185.70 L316.33,185.51 L316.58,185.33 L316.84,185.15 L317.09,184.97 L317.35,184.79 L317.60,184.62 L317.86,184.46 L318.12,184.30 L318.37,184.13 L318.63,183.97 L318.88,183.81 L319.14,183.66 L319.39,183.50 L319.65,183.34 L319.90,183.18 L320.16,183.03 L320.42,182.88 L320.67,182.73 L320.93,182.59 L321.18,182.45 L321.44,182.31 L321.69,182.18 L321.95,182.05 L322.20,181.92 L322.46,181.80 L322.71,181.68 L322.97,181.56 L323.23,181.45 L323.48,181.35 L323.74,181.25 L323.99,181.15 L324.25,181.04 L324.50,180.93 L324.76,180.82 L325.01,180.71 L325.27,180.59 L325.53,180.48 L325.78,180.36 L326.04,180.24 L326.29,180.12 L326.55,179.99 L326.80,179.85 L327.06,179.72 L327.31,179.58 L327.57,179.44 L327.82,179.27 L328.08,179.09 L328.34,178.91 L328.59,178.73 L328.85,178.55 L329.10,178.37 L329.36,178.19 L329.61,178.01 L329.87,177.83 L330.12,177.65 L330.38,177.46 L330.64,177.28 L330.89,177.10 L331.15,176.92 L331.40,176.74 L331.66,176.55 L331.91,176.37 L332.17,176.19 L332.42,176.01 L332.68,175.83 L332.94,175.64 L333.19,175.46 L333.45,175.28 L333.70,175.10 L333.96,174.92 L334.21,174.73 L334.47,174.55 L334.72,174.37 L334.98,174.19 L335.23,174.01 L335.49,173.82 L335.75,173.64 L336.00,173.46 L336.26,173.28 L336.51,173.10 L336.77,172.91 L337.02,172.73 L337.28,172.55 L337.53,172.37 L337.79,172.19 L338.05,172.00 L338.30,171.82 L338.56,171.64 L338.81,171.46 L339.07,171.28 L339.32,171.10 L339.58,170.91 L339.83,170.73 L340.09,170.55 L340.34,170.37 L340.60,170.19 L340.86,170.00 L341.11,169.82 L341.37,169.64 L341.62,169.46 L341.88,169.28 L342.13,169.09 L342.39,168.91 L342.64,168.73 L342.90,168.55" fill="none" stroke="#f00000" stroke-width="3.0" stroke-linejoin="round"/>
<text x="363.80" y="157.20" font-size="9.20" text-anchor="start" font-weight="bold" fill="#000" stroke="#000" stroke-width="0.3" >D</text>
<path d="M387.4,161.6 V262.3" stroke="#d4d4d4" stroke-width="0.8"/>
<path d="M387.4,211.8 H540.6" stroke="#d4d4d4" stroke-width="0.8"/>
<text x="380.60" y="163.90" font-size="6.40" text-anchor="end" font-weight="bold" fill="#000" stroke="#000" stroke-width="0.3" >0.3</text>
<text x="380.60" y="180.80" font-size="6.40" text-anchor="end" font-weight="bold" fill="#000" stroke="#000" stroke-width="0.3" >0.2</text>
<text x="380.60" y="197.80" font-size="6.40" text-anchor="end" font-weight="bold" fill="#000" stroke="#000" stroke-width="0.3" >0.1</text>
<text x="380.60" y="214.10" font-size="6.40" text-anchor="end" font-weight="bold" fill="#000" stroke="#000" stroke-width="0.3" >0</text>
<text x="380.60" y="230.90" font-size="6.40" text-anchor="end" font-weight="bold" fill="#000" stroke="#000" stroke-width="0.3" >-0.1</text>
<text x="380.60" y="247.80" font-size="6.40" text-anchor="end" font-weight="bold" fill="#000" stroke="#000" stroke-width="0.3" >-0.2</text>
<text x="380.60" y="264.60" font-size="6.40" text-anchor="end" font-weight="bold" fill="#000" stroke="#000" stroke-width="0.3" >-0.3</text>
<text x="387.70" y="223.80" font-size="6.40" text-anchor="middle" font-weight="bold" fill="#000" stroke="#000" stroke-width="0.3" >0</text>
<text x="418.30" y="223.80" font-size="6.40" text-anchor="middle" font-weight="bold" fill="#000" stroke="#000" stroke-width="0.3" >0.2</text>
<text x="448.90" y="223.80" font-size="6.40" text-anchor="middle" font-weight="bold" fill="#000" stroke="#000" stroke-width="0.3" >0.4</text>
<text x="479.50" y="223.80" font-size="6.40" text-anchor="middle" font-weight="bold" fill="#000" stroke="#000" stroke-width="0.3" >0.6</text>
<text x="510.10" y="223.80" font-size="6.40" text-anchor="middle" font-weight="bold" fill="#000" stroke="#000" stroke-width="0.3" >0.8</text>
<text x="540.70" y="223.80" font-size="6.40" text-anchor="middle" font-weight="bold" fill="#000" stroke="#000" stroke-width="0.3" >1</text>
<text x="0.00" y="0.00" font-size="7.60" text-anchor="middle" font-weight="bold" fill="#000" stroke="#000" stroke-width="0.3" transform="translate(366.6,212.3) rotate(-90)">Error (v)</text>
<text x="465.80" y="272.70" font-size="7.70" text-anchor="middle" font-weight="bold" fill="#000" stroke="#000" stroke-width="0.3" >Time (sec)</text>
<path d="M394.6,165.4 H405.5" stroke="#000" stroke-width="2.2"/>
<path d="M394.6,172.7 H405.5" stroke="#7030a0" stroke-width="2.2"/>
<text x="411.00" y="167.00" font-size="5.90" text-anchor="start" font-weight="bold" fill="#000" stroke="#000" stroke-width="0.3" >Output 1</text>
<text x="411.00" y="174.60" font-size="5.90" text-anchor="start" font-weight="bold" fill="#000" stroke="#000" stroke-width="0.3" >Output 2</text>
<path d="M392.17,265.75 L392.38,260.23 L392.59,254.38 L392.80,248.32 L393.02,242.24 L393.23,236.36 L393.44,230.88 L393.65,226.00 L393.86,221.64 L394.08,217.35 L394.29,213.27 L394.50,209.59 L394.71,206.48 L394.93,204.12 L395.14,202.49 L395.35,200.99 L395.56,199.62 L395.77,198.43 L395.99,197.47 L396.20,196.78 L396.41,196.44 L396.62,196.43 L396.84,196.61 L397.05,196.93 L397.26,197.33 L397.47,197.79 L397.68,198.25 L397.90,198.71 L398.11,199.24 L398.32,199.84 L398.53,200.50 L398.74,201.18 L398.96,201.87 L399.17,202.54 L399.38,203.17 L399.59,203.75 L399.81,204.33 L400.02,204.91 L400.23,205.49 L400.44,206.06 L400.65,206.60 L400.87,207.11 L401.08,207.57 L401.29,207.97 L401.50,208.31 L401.72,208.61 L401.93,208.91 L402.14,209.20 L402.35,209.47 L402.56,209.71 L402.78,209.91 L402.99,210.07 L403.20,210.17 L403.41,210.20 L403.63,210.19 L403.84,210.17 L404.05,210.14 L404.26,210.09 L404.47,210.04 L404.69,209.99 L404.90,209.92 L405.11,209.86 L405.32,209.79 L405.54,209.73 L405.75,209.67 L405.96,209.61 L406.17,209.55 L406.38,209.49 L406.60,209.42 L406.81,209.35 L407.02,209.28 L407.23,209.20 L407.45,209.13 L407.66,209.05 L407.87,208.98 L408.08,208.91 L408.29,208.84 L408.51,208.78 L408.72,208.73 L408.93,208.68 L409.14,208.64 L409.36,208.61 L409.57,208.60 L409.78,208.58 L409.99,208.57 L410.20,208.56 L410.42,208.54 L410.63,208.53 L410.84,208.52 L411.05,208.51 L411.27,208.50 L411.48,208.49 L411.69,208.48 L411.90,208.47 L412.11,208.47 L412.33,208.46 L412.54,208.45 L412.75,208.45 L412.96,208.44 L413.18,208.43 L413.39,208.43 L413.60,208.42 L413.81,208.42 L414.02,208.42 L414.24,208.41 L414.45,208.41 L414.66,208.40 L414.87,208.40 L415.08,208.40 L415.30,208.40 L415.51,208.39 L415.72,208.39 L415.93,208.39 L416.15,208.39 L416.36,208.38 L416.57,208.38 L416.78,208.38 L416.99,208.38 L417.21,208.37 L417.42,208.37 L417.63,208.37 L417.84,208.37 L418.06,208.36 L418.27,208.36 L418.48,208.36 L418.69,208.36 L418.90,208.36 L419.12,208.35 L419.33,208.35 L419.54,208.35 L419.75,208.35 L419.97,208.35 L420.18,208.34 L420.39,208.34 L420.60,208.34 L420.81,208.34 L421.03,208.34 L421.24,208.34 L421.45,208.33 L421.66,208.33 L421.88,208.33 L422.09,208.33 L422.30,208.33 L422.51,208.33 L422.72,208.32 L422.94,208.32 L423.15,208.32 L423.36,208.32 L423.57,208.32 L423.79,208.32 L424.00,208.32 L424.21,208.32 L424.42,208.31 L424.63,208.31 L424.85,208.31 L425.06,208.31 L425.27,208.31 L425.48,208.31 L425.70,208.31 L425.91,208.31 L426.12,208.31 L426.33,208.31 L426.54,208.31 L426.76,208.31 L426.97,208.30 L427.18,208.30 L427.39,208.30 L427.61,208.30 L427.82,208.30 L428.03,208.30 L428.24,208.30 L428.45,208.30 L428.67,208.30 L428.88,208.30 L429.09,208.30 L429.30,208.30 L429.52,208.30 L429.73,208.30 L429.94,208.30 L430.15,208.30 L430.36,208.30 L430.58,208.30 L430.79,208.30 L431.00,208.30 L431.21,208.30 L431.43,208.30 L431.64,208.30 L431.85,208.30 L432.06,208.31 L432.27,208.31 L432.49,208.31 L432.70,208.31 L432.91,208.31 L433.12,208.31 L433.33,208.31 L433.55,208.32 L433.76,208.32 L433.97,208.32 L434.18,208.32 L434.40,208.32 L434.61,208.33 L434.82,208.33 L435.03,208.33 L435.24,208.33 L435.46,208.34 L435.67,208.34 L435.88,208.34 L436.09,208.34 L436.31,208.35 L436.52,208.35 L436.73,208.35 L436.94,208.36 L437.15,208.36 L437.37,208.36 L437.58,208.36 L437.79,208.37 L438.00,208.37 L438.22,208.37 L438.43,208.38 L438.64,208.38 L438.85,208.38 L439.06,208.39 L439.28,208.39 L439.49,208.39 L439.70,208.40 L439.91,208.40 L440.13,208.40 L440.34,208.41 L440.55,208.41 L440.76,208.41 L440.97,208.41 L441.19,208.42 L441.40,208.42 L441.61,208.42 L441.82,208.43 L442.04,208.43 L442.25,208.43 L442.46,208.44 L442.67,208.44 L442.88,208.44 L443.10,208.44 L443.31,208.45 L443.52,208.45 L443.73,208.45 L443.95,208.46 L444.16,208.46 L444.37,208.46 L444.58,208.46 L444.79,208.47 L445.01,208.47 L445.22,208.47 L445.43,208.47 L445.64,208.48 L445.86,208.48 L446.07,208.48 L446.28,208.48 L446.49,208.48 L446.70,208.49 L446.92,208.49 L447.13,208.49 L447.34,208.49 L447.55,208.49 L447.77,208.49 L447.98,208.49 L448.19,208.50 L448.40,208.50 L448.61,208.50 L448.83,208.50 L449.04,208.50 L449.25,208.50 L449.46,208.50 L449.67,208.50 L449.89,208.50 L450.10,208.50 L450.31,208.50 L450.52,208.50 L450.74,208.50 L450.95,208.50 L451.16,208.50 L451.37,208.50 L451.58,208.50 L451.80,208.50 L452.01,208.50 L452.22,208.49 L452.43,208.49 L452.65,208.49 L452.86,208.49 L453.07,208.49 L453.28,208.49 L453.49,208.49 L453.71,208.48 L453.92,208.48 L454.13,208.48 L454.34,208.48 L454.56,208.48 L454.77,208.47 L454.98,208.47 L455.19,208.47 L455.40,208.47 L455.62,208.46 L455.83,208.46 L456.04,208.46 L456.25,208.45 L456.47,208.45 L456.68,208.45 L456.89,208.44 L457.10,208.44 L457.31,208.43 L457.53,208.43 L457.74,208.43 L457.95,208.42 L458.16,208.42 L458.38,208.41 L458.59,208.41 L458.80,208.40 L459.01,208.40 L459.22,208.39 L459.44,208.38 L459.65,208.37 L459.86,208.36 L460.07,208.34 L460.29,208.33 L460.50,208.30 L460.71,208.28 L460.92,208.26 L461.13,208.23 L461.35,208.20 L461.56,208.17 L461.77,208.14 L461.98,208.10 L462.20,208.06 L462.41,208.01 L462.62,207.95 L462.83,207.88 L463.04,207.80 L463.26,207.70 L463.47,207.60 L463.68,207.48 L463.89,207.35 L464.11,207.21 L464.32,207.06 L464.53,206.89 L464.74,206.63 L464.95,206.31 L465.17,205.93 L465.38,205.49 L465.59,205.01 L465.80,204.50 L466.01,203.97 L466.23,203.43 L466.44,202.76 L466.65,201.96 L466.86,201.10 L467.08,200.26 L467.29,199.52 L467.50,198.93 L467.71,198.32 L467.92,197.78 L468.14,197.40 L468.35,197.32 L468.56,197.93 L468.77,199.13 L468.99,200.89 L469.20,204.39 L469.41,207.65 L469.62,210.82 L469.83,212.40 L470.05,212.92 L470.26,213.30 L470.47,213.56 L470.68,213.73 L470.90,213.85 L471.11,213.94 L471.32,214.03 L471.53,214.10 L471.74,214.15 L471.96,214.19 L472.17,214.20 L472.38,214.18 L472.59,214.11 L472.81,214.00 L473.02,213.85 L473.23,213.68 L473.44,213.50 L473.65,213.31 L473.87,213.12 L474.08,212.93 L474.29,212.72 L474.50,212.47 L474.72,212.21 L474.93,211.92 L475.14,211.62 L475.35,211.33 L475.56,211.03 L475.78,210.76 L475.99,210.50 L476.20,210.27 L476.41,210.07 L476.63,209.91 L476.84,209.75 L477.05,209.59 L477.26,209.44 L477.47,209.29 L477.69,209.14 L477.90,209.01 L478.11,208.88 L478.32,208.77 L478.54,208.67 L478.75,208.58 L478.96,208.50 L479.17,208.45 L479.38,208.41 L479.60,208.39 L479.81,208.38 L480.02,208.36 L480.23,208.35 L480.45,208.34 L480.66,208.32 L480.87,208.31 L481.08,208.30 L481.29,208.29 L481.51,208.28 L481.72,208.27 L481.93,208.26 L482.14,208.25 L482.35,208.25 L482.57,208.24 L482.78,208.23 L482.99,208.23 L483.20,208.22 L483.42,208.22 L483.63,208.21 L483.84,208.21 L484.05,208.21 L484.26,208.20 L484.48,208.20 L484.69,208.20 L484.90,208.20 L485.11,208.20 L485.33,208.20 L485.54,208.20 L485.75,208.20 L485.96,208.20 L486.17,208.20 L486.39,208.20 L486.60,208.20 L486.81,208.20 L487.02,208.20 L487.24,208.21 L487.45,208.21 L487.66,208.21 L487.87,208.21 L488.08,208.21 L488.30,208.21 L488.51,208.21 L488.72,208.22 L488.93,208.22 L489.15,208.22 L489.36,208.22 L489.57,208.22 L489.78,208.22 L489.99,208.23 L490.21,208.23 L490.42,208.23 L490.63,208.23 L490.84,208.23 L491.06,208.24 L491.27,208.24 L491.48,208.24 L491.69,208.24 L491.90,208.24 L492.12,208.25 L492.33,208.25 L492.54,208.25 L492.75,208.25 L492.97,208.25 L493.18,208.26 L493.39,208.26 L493.60,208.26 L493.81,208.26 L494.03,208.27 L494.24,208.27 L494.45,208.27 L494.66,208.27 L494.88,208.27 L495.09,208.27 L495.30,208.28 L495.51,208.28 L495.72,208.28 L495.94,208.28 L496.15,208.28 L496.36,208.29 L496.57,208.29 L496.79,208.29 L497.00,208.29 L497.21,208.29 L497.42,208.29 L497.63,208.29 L497.85,208.29 L498.06,208.30 L498.27,208.30 L498.48,208.30 L498.69,208.30 L498.91,208.30 L499.12,208.30 L499.33,208.30 L499.54,208.30 L499.76,208.30 L499.97,208.30 L500.18,208.30 L500.39,208.30 L500.60,208.30 L500.82,208.30 L501.03,208.30 L501.24,208.30 L501.45,208.30 L501.67,208.30 L501.88,208.30 L502.09,208.30 L502.30,208.30 L502.51,208.30 L502.73,208.30 L502.94,208.30 L503.15,208.30 L503.36,208.30 L503.58,208.30 L503.79,208.30 L504.00,208.30 L504.21,208.30 L504.42,208.30 L504.64,208.30 L504.85,208.30 L505.06,208.30 L505.27,208.30 L505.49,208.30 L505.70,208.30 L505.91,208.30 L506.12,208.30 L506.33,208.30 L506.55,208.30 L506.76,208.30 L506.97,208.30 L507.18,208.30 L507.40,208.30 L507.61,208.30 L507.82,208.30 L508.03,208.30 L508.24,208.30 L508.46,208.30 L508.67,208.30 L508.88,208.30 L509.09,208.30 L509.31,208.30 L509.52,208.30 L509.73,208.30 L509.94,208.30 L510.15,208.30 L510.37,208.29 L510.58,208.29 L510.79,208.27 L511.00,208.26 L511.22,208.24 L511.43,208.22 L511.64,208.20 L511.85,208.17 L512.06,208.14 L512.28,208.11 L512.49,208.08 L512.70,208.05 L512.91,208.01 L513.13,207.98 L513.34,207.93 L513.55,207.86 L513.76,207.79 L513.97,207.70 L514.19,207.61 L514.40,207.50 L514.61,207.39 L514.82,207.28 L515.04,207.16 L515.25,207.04 L515.46,206.91 L515.67,206.79 L515.88,206.67 L516.10,206.54 L516.31,206.40 L516.52,206.25 L516.73,206.09 L516.94,205.91 L517.16,205.74 L517.37,205.56 L517.58,205.39 L517.79,205.23 L518.01,205.08 L518.22,204.95 L518.43,204.83 L518.64,204.74 L518.85,204.64 L519.07,204.55 L519.28,204.46 L519.49,204.37 L519.70,204.29 L519.92,204.22 L520.13,204.15 L520.34,204.10 L520.55,204.05 L520.76,204.02 L520.98,204.00 L521.19,203.99 L521.40,203.98 L521.61,203.98 L521.83,203.97 L522.04,203.96 L522.25,203.96 L522.46,203.95 L522.67,203.94 L522.89,203.94 L523.10,203.93 L523.31,203.93 L523.52,203.92 L523.74,203.92 L523.95,203.92 L524.16,203.91 L524.37,203.91 L524.58,203.91 L524.80,203.91 L525.01,203.90 L525.22,203.90 L525.43,203.90 L525.65,203.90 L525.86,203.90 L526.07,203.90 L526.28,203.90 L526.49,203.90 L526.71,203.90 L526.92,203.90 L527.13,203.90 L527.34,203.90 L527.56,203.90 L527.77,203.90 L527.98,203.90 L528.19,203.90 L528.40,203.90 L528.62,203.90 L528.83,203.90 L529.04,203.90 L529.25,203.90 L529.47,203.90 L529.68,203.90 L529.89,203.90 L530.10,203.90 L530.31,203.90 L530.53,203.90 L530.74,203.90 L530.95,203.90 L531.16,203.90 L531.38,203.90 L531.59,203.90 L531.80,203.90 L532.01,203.90 L532.22,203.90 L532.44,203.90 L532.65,203.90 L532.86,203.90 L533.07,203.90 L533.28,203.90 L533.50,203.90 L533.71,203.90 L533.92,203.90 L534.13,203.90 L534.35,203.90 L534.56,203.90 L534.77,203.90 L534.98,203.90 L535.19,203.90 L535.41,203.90 L535.62,203.90 L535.83,203.90 L536.04,203.90 L536.26,203.90 L536.47,203.90 L536.68,203.90 L536.89,203.90 L537.10,203.90 L537.32,203.90 L537.53,203.90 L537.74,203.90 L537.95,203.90 L538.17,203.90 L538.38,203.90 L538.59,203.90 L538.80,203.90 L539.01,203.90 L539.23,203.90 L539.44,203.90 L539.65,203.90 L539.86,203.90 L540.08,203.90 L540.29,203.90 L540.50,203.90" fill="none" stroke="#7030a0" stroke-width="2.0" stroke-linejoin="round"/>
<path d="M387.50,211.80 L387.72,209.78 L387.94,207.78 L388.16,205.83 L388.38,203.91 L388.59,202.02 L388.81,200.17 L389.03,198.36 L389.25,196.59 L389.47,194.75 L389.69,192.88 L389.91,191.02 L390.13,189.24 L390.35,187.62 L390.56,186.21 L390.78,185.07 L391.00,184.12 L391.22,183.17 L391.44,182.29 L391.66,181.52 L391.88,180.92 L392.10,180.53 L392.32,180.40 L392.53,180.52 L392.75,180.82 L392.97,181.26 L393.19,181.79 L393.41,182.40 L393.63,183.02 L393.85,183.64 L394.07,184.37 L394.29,185.24 L394.50,186.22 L394.72,187.24 L394.94,188.26 L395.16,189.22 L395.38,190.09 L395.60,190.82 L395.82,191.51 L396.04,192.19 L396.26,192.84 L396.47,193.46 L396.69,194.03 L396.91,194.56 L397.13,195.02 L397.35,195.42 L397.57,195.76 L397.79,196.07 L398.01,196.35 L398.23,196.62 L398.44,196.87 L398.66,197.10 L398.88,197.32 L399.10,197.53 L399.32,197.74 L399.54,197.93 L399.76,198.13 L399.98,198.32 L400.20,198.52 L400.41,198.72 L400.63,198.92 L400.85,199.12 L401.07,199.31 L401.29,199.50 L401.51,199.67 L401.73,199.85 L401.95,200.02 L402.17,200.19 L402.38,200.36 L402.60,200.54 L402.82,200.72 L403.04,200.90 L403.26,201.09 L403.48,201.29 L403.70,201.50 L403.92,201.71 L404.14,201.94 L404.35,202.19 L404.57,202.45 L404.79,202.72 L405.01,203.00 L405.23,203.30 L405.45,203.59 L405.67,203.90 L405.89,204.21 L406.11,204.52 L406.32,204.84 L406.54,205.15 L406.76,205.47 L406.98,205.78 L407.20,206.09 L407.42,206.39 L407.64,206.69 L407.86,206.98 L408.08,207.28 L408.29,207.58 L408.51,207.88 L408.73,208.17 L408.95,208.47 L409.17,208.77 L409.39,209.07 L409.61,209.37 L409.83,209.67 L410.05,209.97 L410.26,210.27 L410.48,210.56 L410.70,210.86 L410.92,211.16 L411.14,211.45 L411.36,211.74 L411.58,212.04 L411.80,212.33 L412.02,212.63 L412.23,212.93 L412.45,213.24 L412.67,213.54 L412.89,213.84 L413.11,214.15 L413.33,214.45 L413.55,214.76 L413.77,215.06 L413.98,215.37 L414.20,215.67 L414.42,215.97 L414.64,216.28 L414.86,216.57 L415.08,216.87 L415.30,217.17 L415.52,217.46 L415.74,217.75 L415.95,218.03 L416.17,218.32 L416.39,218.60 L416.61,218.87 L416.83,219.14 L417.05,219.41 L417.27,219.67 L417.49,219.92 L417.71,220.17 L417.92,220.42 L418.14,220.66 L418.36,220.89 L418.58,221.13 L418.80,221.36 L419.02,221.59 L419.24,221.82 L419.46,222.04 L419.68,222.27 L419.89,222.49 L420.11,222.71 L420.33,222.93 L420.55,223.14 L420.77,223.36 L420.99,223.57 L421.21,223.78 L421.43,223.98 L421.65,224.18 L421.86,224.39 L422.08,224.59 L422.30,224.78 L422.52,224.98 L422.74,225.17 L422.96,225.36 L423.18,225.54 L423.40,225.73 L423.62,225.91 L423.83,226.09 L424.05,226.27 L424.27,226.44 L424.49,226.61 L424.71,226.78 L424.93,226.95 L425.15,227.11 L425.37,227.28 L425.59,227.44 L425.80,227.61 L426.02,227.77 L426.24,227.93 L426.46,228.10 L426.68,228.26 L426.90,228.42 L427.12,228.58 L427.34,228.73 L427.56,228.89 L427.77,229.04 L427.99,229.19 L428.21,229.33 L428.43,229.48 L428.65,229.61 L428.87,229.75 L429.09,229.88 L429.31,230.01 L429.53,230.13 L429.74,230.24 L429.96,230.35 L430.18,230.46 L430.40,230.56 L430.62,230.65 L430.84,230.74 L431.06,230.82 L431.28,230.90 L431.50,230.98 L431.71,231.06 L431.93,231.14 L432.15,231.22 L432.37,231.30 L432.59,231.37 L432.81,231.45 L433.03,231.52 L433.25,231.59 L433.47,231.66 L433.68,231.73 L433.90,231.79 L434.12,231.85 L434.34,231.91 L434.56,231.96 L434.78,232.01 L435.00,232.05 L435.22,232.09 L435.44,232.12 L435.65,232.15 L435.87,232.17 L436.09,232.19 L436.31,232.20 L436.53,232.20 L436.75,232.20 L436.97,232.18 L437.19,232.17 L437.41,232.14 L437.62,232.11 L437.84,232.08 L438.06,232.04 L438.28,231.99 L438.50,231.94 L438.72,231.89 L438.94,231.83 L439.16,231.77 L439.38,231.70 L439.59,231.64 L439.81,231.57 L440.03,231.49 L440.25,231.42 L440.47,231.34 L440.69,231.27 L440.91,231.19 L441.13,231.11 L441.35,231.03 L441.56,230.95 L441.78,230.88 L442.00,230.80 L442.22,230.72 L442.44,230.63 L442.66,230.54 L442.88,230.45 L443.10,230.35 L443.32,230.24 L443.53,230.13 L443.75,230.02 L443.97,229.90 L444.19,229.78 L444.41,229.65 L444.63,229.52 L444.85,229.39 L445.07,229.26 L445.29,229.12 L445.50,228.98 L445.72,228.84 L445.94,228.69 L446.16,228.55 L446.38,228.40 L446.60,228.25 L446.82,228.10 L447.04,227.95 L447.26,227.79 L447.47,227.64 L447.69,227.49 L447.91,227.33 L448.13,227.18 L448.35,227.02 L448.57,226.87 L448.79,226.72 L449.01,226.57 L449.23,226.42 L449.44,226.27 L449.66,226.12 L449.88,225.98 L450.10,225.83 L450.32,225.69 L450.54,225.54 L450.76,225.40 L450.98,225.25 L451.20,225.10 L451.41,224.95 L451.63,224.80 L451.85,224.65 L452.07,224.50 L452.29,224.34 L452.51,224.19 L452.73,224.04 L452.95,223.88 L453.17,223.73 L453.38,223.57 L453.60,223.42 L453.82,223.26 L454.04,223.10 L454.26,222.95 L454.48,222.79 L454.70,222.64 L454.92,222.48 L455.14,222.32 L455.35,222.17 L455.57,222.01 L455.79,221.85 L456.01,221.70 L456.23,221.54 L456.45,221.39 L456.67,221.23 L456.89,221.08 L457.11,220.93 L457.32,220.77 L457.54,220.60 L457.76,220.43 L457.98,220.26 L458.20,220.08 L458.42,219.90 L458.64,219.72 L458.86,219.54 L459.08,219.37 L459.29,219.19 L459.51,219.01 L459.73,218.84 L459.95,218.68 L460.17,218.52 L460.39,218.36 L460.61,218.21 L460.83,218.07 L461.05,217.94 L461.26,217.82 L461.48,217.71 L461.70,217.61 L461.92,217.53 L462.14,217.45 L462.36,217.38 L462.58,217.30 L462.80,217.23 L463.02,217.16 L463.23,217.10 L463.45,217.04 L463.67,216.99 L463.89,216.95 L464.11,216.92 L464.33,216.90 L464.55,216.90 L464.77,216.97 L464.98,217.13 L465.20,217.37 L465.42,217.68 L465.64,218.06 L465.86,218.49 L466.08,219.04 L466.30,220.21 L466.52,221.89 L466.74,223.81 L466.95,225.66 L467.17,227.57 L467.39,229.76 L467.61,231.24 L467.83,231.10 L468.05,229.56 L468.27,227.35 L468.49,225.08 L468.71,222.26 L468.92,219.00 L469.14,215.63 L469.36,212.49 L469.58,209.62 L469.80,206.72 L470.02,203.92 L470.24,201.41 L470.46,199.34 L470.68,197.68 L470.89,196.16 L471.11,194.82 L471.33,193.72 L471.55,192.93 L471.77,192.40 L471.99,191.92 L472.21,191.52 L472.43,191.24 L472.65,191.11 L472.86,191.15 L473.08,191.36 L473.30,191.68 L473.52,192.08 L473.74,192.51 L473.96,192.93 L474.18,193.35 L474.40,193.85 L474.62,194.41 L474.83,194.98 L475.05,195.53 L475.27,196.03 L475.49,196.44 L475.71,196.75 L475.93,197.04 L476.15,197.33 L476.37,197.59 L476.59,197.82 L476.80,198.01 L477.02,198.14 L477.24,198.20 L477.46,198.19 L477.68,198.17 L477.90,198.12 L478.12,198.06 L478.34,197.98 L478.56,197.89 L478.77,197.79 L478.99,197.69 L479.21,197.58 L479.43,197.47 L479.65,197.36 L479.87,197.26 L480.09,197.16 L480.31,197.06 L480.53,196.95 L480.74,196.83 L480.96,196.70 L481.18,196.57 L481.40,196.44 L481.62,196.30 L481.84,196.16 L482.06,196.02 L482.28,195.88 L482.50,195.74 L482.71,195.60 L482.93,195.46 L483.15,195.32 L483.37,195.19 L483.59,195.06 L483.81,194.94 L484.03,194.82 L484.25,194.71 L484.47,194.61 L484.68,194.52 L484.90,194.43 L485.12,194.36 L485.34,194.28 L485.56,194.21 L485.78,194.14 L486.00,194.06 L486.22,193.99 L486.44,193.91 L486.65,193.84 L486.87,193.77 L487.09,193.71 L487.31,193.64 L487.53,193.58 L487.75,193.52 L487.97,193.47 L488.19,193.42 L488.41,193.37 L488.62,193.33 L488.84,193.29 L489.06,193.26 L489.28,193.24 L489.50,193.22 L489.72,193.21 L489.94,193.20 L490.16,193.20 L490.38,193.21 L490.59,193.22 L490.81,193.23 L491.03,193.25 L491.25,193.27 L491.47,193.29 L491.69,193.32 L491.91,193.35 L492.13,193.39 L492.35,193.42 L492.56,193.46 L492.78,193.50 L493.00,193.55 L493.22,193.59 L493.44,193.64 L493.66,193.69 L493.88,193.74 L494.10,193.79 L494.32,193.84 L494.53,193.89 L494.75,193.94 L494.97,193.99 L495.19,194.05 L495.41,194.11 L495.63,194.18 L495.85,194.25 L496.07,194.33 L496.29,194.42 L496.50,194.51 L496.72,194.60 L496.94,194.70 L497.16,194.81 L497.38,194.91 L497.60,195.02 L497.82,195.13 L498.04,195.25 L498.26,195.36 L498.47,195.48 L498.69,195.60 L498.91,195.72 L499.13,195.84 L499.35,195.95 L499.57,196.07 L499.79,196.19 L500.01,196.30 L500.23,196.42 L500.44,196.54 L500.66,196.66 L500.88,196.78 L501.10,196.91 L501.32,197.04 L501.54,197.17 L501.76,197.30 L501.98,197.43 L502.20,197.57 L502.41,197.71 L502.63,197.84 L502.85,197.98 L503.07,198.12 L503.29,198.25 L503.51,198.39 L503.73,198.53 L503.95,198.66 L504.17,198.80 L504.38,198.93 L504.60,199.06 L504.82,199.19 L505.04,199.32 L505.26,199.46 L505.48,199.59 L505.70,199.73 L505.92,199.88 L506.14,200.02 L506.35,200.17 L506.57,200.31 L506.79,200.46 L507.01,200.60 L507.23,200.74 L507.45,200.87 L507.67,201.00 L507.89,201.12 L508.11,201.23 L508.32,201.34 L508.54,201.44 L508.76,201.52 L508.98,201.59 L509.20,201.66 L509.42,201.73 L509.64,201.79 L509.86,201.86 L510.08,201.92 L510.29,201.97 L510.51,202.02 L510.73,202.06 L510.95,202.08 L511.17,202.10 L511.39,202.09 L511.61,201.99 L511.83,201.79 L512.05,201.50 L512.26,201.13 L512.48,200.70 L512.70,200.22 L512.92,199.70 L513.14,199.08 L513.36,198.16 L513.58,196.96 L513.80,195.54 L514.02,193.93 L514.23,192.20 L514.45,190.40 L514.67,188.37 L514.89,185.85 L515.11,183.06 L515.33,180.23 L515.55,177.58 L515.77,175.13 L515.98,172.61 L516.20,170.40 L516.42,168.88 L516.64,167.76 L516.86,166.97 L517.08,166.84 L517.30,167.32 L517.52,168.16 L517.74,169.18 L517.95,170.80 L518.17,173.05 L518.39,175.60 L518.61,178.13 L518.83,180.72 L519.05,183.54 L519.27,186.44 L519.49,189.29 L519.71,191.95 L519.92,194.34 L520.14,196.60 L520.36,198.77 L520.58,200.87 L520.80,202.90 L521.02,204.89 L521.24,206.83 L521.46,208.74 L521.68,210.63 L521.89,212.52 L522.11,214.45 L522.33,216.38 L522.55,218.25 L522.77,220.02 L522.99,221.63 L523.21,223.05 L523.43,224.33 L523.65,225.55 L523.86,226.69 L524.08,227.76 L524.30,228.72 L524.52,229.58 L524.74,230.32 L524.96,230.95 L525.18,231.50 L525.40,232.01 L525.62,232.47 L525.83,232.89 L526.05,233.30 L526.27,233.69 L526.49,234.07 L526.71,234.46 L526.93,234.86 L527.15,235.29 L527.37,235.71 L527.59,236.13 L527.80,236.55 L528.02,236.97 L528.24,237.38 L528.46,237.79 L528.68,238.19 L528.90,238.59 L529.12,238.98 L529.34,239.37 L529.56,239.75 L529.77,240.12 L529.99,240.49 L530.21,240.85 L530.43,241.21 L530.65,241.57 L530.87,241.92 L531.09,242.27 L531.31,242.61 L531.53,242.95 L531.74,243.28 L531.96,243.60 L532.18,243.92 L532.40,244.22 L532.62,244.52 L532.84,244.80 L533.06,245.07 L533.28,245.33 L533.50,245.59 L533.71,245.85 L533.93,246.09 L534.15,246.33 L534.37,246.57 L534.59,246.80 L534.81,247.03 L535.03,247.25 L535.25,247.46 L535.47,247.67 L535.68,247.88 L535.90,248.08 L536.12,248.27 L536.34,248.46 L536.56,248.65 L536.78,248.83 L537.00,249.02 L537.22,249.19 L537.44,249.37 L537.65,249.54 L537.87,249.71 L538.09,249.88 L538.31,250.04 L538.53,250.20 L538.75,250.36 L538.97,250.51 L539.19,250.66 L539.41,250.80 L539.62,250.94 L539.84,251.08 L540.06,251.21 L540.28,251.33 L540.50,251.45" fill="none" stroke="#000" stroke-width="2.0" stroke-linejoin="round"/>
<text x="363.00" y="12.20" font-size="9.20" text-anchor="start" font-weight="bold" fill="#000" stroke="#000" stroke-width="0.3" >B</text>
<polygon points="464.3,82.1 401.3,103.9 463.6,128.9 526.7,104.1" fill="#f6f6f7" stroke="#cfcfd4" stroke-width="0.5"/>
<polygon points="464.3,82.1 401.3,103.9 399.6,37.6 464.3,19.5" fill="#f0f0f3" stroke="#cfcfd4" stroke-width="0.5"/>
<polygon points="464.3,82.1 526.7,104.1 528.4,37.8 464.3,19.5" fill="#f7f7f9" stroke="#cfcfd4" stroke-width="0.5"/>
<path d="M461.0,83.3 L523.4,105.4 M467.5,83.3 L404.5,105.2 M461.0,83.3 L460.9,20.4 M467.5,83.3 L467.6,20.4 M447.6,87.9 L510.0,110.7 M480.8,88.0 L417.7,110.5 M447.6,87.9 L447.1,24.3 M480.8,88.0 L481.2,24.3 M433.8,92.7 L496.2,116.1 M494.5,92.8 L431.4,116.0 M433.8,92.7 L433.0,28.2 M494.5,92.8 L495.3,28.3 M419.6,97.6 L482.0,121.7 M508.6,97.7 L445.4,121.6 M419.6,97.6 L418.4,32.3 M508.6,97.7 L509.7,32.5 M404.9,102.6 L467.3,127.5 M523.1,102.8 L460.0,127.5 M404.9,102.6 L403.4,36.5 M523.1,102.8 L524.6,36.7 M464.3,81.2 L401.2,102.9 M464.3,81.2 L526.7,103.2 M464.3,73.1 L401.0,94.3 M464.3,73.1 L526.9,94.6 M464.3,64.9 L400.8,85.7 M464.3,64.9 L527.2,85.9 M464.3,56.7 L400.6,77.0 M464.3,56.7 L527.4,77.2 M464.3,48.4 L400.4,68.3 M464.3,48.4 L527.6,68.5 M464.3,40.1 L400.1,59.5 M464.3,40.1 L527.8,59.7 M464.3,31.7 L399.9,50.6 M464.3,31.7 L528.1,50.8 M464.3,23.3 L399.7,41.6 M464.3,23.3 L528.3,41.8" fill="none" stroke="#dfdfe3" stroke-width="0.5"/>
<polygon points="464.2,22.6 461.0,23.8 464.2,24.8 467.4,23.6" fill="#ffffcb" stroke="#ffffcb" stroke-width="0.35" stroke-linejoin="round"/>
<polygon points="461.0,23.8 457.8,25.1 461.0,26.1 464.2,24.8" fill="#fffeca" stroke="#fffeca" stroke-width="0.35" stroke-linejoin="round"/>
<polygon points="467.4,23.6 464.2,24.8 467.4,25.8 470.6,24.6" fill="#ffffcb" stroke="#ffffcb" stroke-width="0.35" stroke-linejoin="round"/>
<polygon points="457.8,25.1 454.6,26.5 457.7,27.5 461.0,26.1" fill="#fffdc7" stroke="#fffdc7" stroke-width="0.35" stroke-linejoin="round"/>
<polygon points="464.2,24.8 461.0,26.1 464.2,27.1 467.4,25.8" fill="#fffec9" stroke="#fffec9" stroke-width="0.35" stroke-linejoin="round"/>
<polygon points="470.6,24.6 467.4,25.8 470.6,26.9 473.8,25.7" fill="#fffeca" stroke="#fffeca" stroke-width="0.35" stroke-linejoin="round"/>
<polygon points="454.6,26.5 451.3,27.9 454.5,28.9 457.7,27.5" fill="#fffcc5" stroke="#fffcc5" stroke-width="0.35" stroke-linejoin="round"/>
<polygon points="461.0,26.1 457.7,27.5 460.9,28.5 464.2,27.1" fill="#fffdc7" stroke="#fffdc7" stroke-width="0.35" stroke-linejoin="round"/>
<polygon points="467.4,25.8 464.2,27.1 467.4,28.2 470.6,26.9" fill="#fffec9" stroke="#fffec9" stroke-width="0.35" stroke-linejoin="round"/>
<polygon points="473.8,25.7 470.6,26.9 473.9,28.0 477.1,26.8" fill="#fffec9" stroke="#fffec9" stroke-width="0.35" stroke-linejoin="round"/>
<polygon points="451.3,27.9 448.0,29.5 451.2,30.5 454.5,28.9" fill="#fffbc1" stroke="#fffbc1" stroke-width="0.35" stroke-linejoin="round"/>
<polygon points="457.7,27.5 454.5,28.9 457.7,30.0 460.9,28.5" fill="#fffcc4" stroke="#fffcc4" stroke-width="0.35" stroke-linejoin="round"/>
<polygon points="464.2,27.1 460.9,28.5 464.1,29.6 467.4,28.2" fill="#fffdc6" stroke="#fffdc6" stroke-width="0.35" stroke-linejoin="round"/>
<polygon points="470.6,26.9 467.4,28.2 470.6,29.3 473.9,28.0" fill="#fffdc8" stroke="#fffdc8" stroke-width="0.35" stroke-linejoin="round"/>
<polygon points="477.1,26.8 473.9,28.0 477.1,29.2 480.3,28.0" fill="#fffdc8" stroke="#fffdc8" stroke-width="0.35" stroke-linejoin="round"/>
<polygon points="448.0,29.5 444.7,31.2 447.9,32.2 451.2,30.5" fill="#fff9be" stroke="#fff9be" stroke-width="0.35" stroke-linejoin="round"/>
<polygon points="454.5,28.9 451.2,30.5 454.4,31.6 457.7,30.0" fill="#fffbc1" stroke="#fffbc1" stroke-width="0.35" stroke-linejoin="round"/>
<polygon points="460.9,28.5 457.7,30.0 460.9,31.0 464.1,29.6" fill="#fffcc4" stroke="#fffcc4" stroke-width="0.35" stroke-linejoin="round"/>
<polygon points="467.4,28.2 464.1,29.6 467.4,30.7 470.6,29.3" fill="#fffcc6" stroke="#fffcc6" stroke-width="0.35" stroke-linejoin="round"/>
<polygon points="473.9,28.0 470.6,29.3 473.9,30.5 477.1,29.2" fill="#fffdc7" stroke="#fffdc7" stroke-width="0.35" stroke-linejoin="round"/>
<polygon points="480.3,28.0 477.1,29.2 480.4,30.4 483.6,29.2" fill="#fffdc7" stroke="#fffdc7" stroke-width="0.35" stroke-linejoin="round"/>
<polygon points="444.7,31.2 441.4,33.0 444.5,34.0 447.9,32.2" fill="#fff7b9" stroke="#fff7b9" stroke-width="0.35" stroke-linejoin="round"/>
<polygon points="451.2,30.5 447.9,32.2 451.1,33.3 454.4,31.6" fill="#fff9bd" stroke="#fff9bd" stroke-width="0.35" stroke-linejoin="round"/>
<polygon points="457.7,30.0 454.4,31.6 457.6,32.6 460.9,31.0" fill="#fffac1" stroke="#fffac1" stroke-width="0.35" stroke-linejoin="round"/>
<polygon points="464.1,29.6 460.9,31.0 464.1,32.1 467.4,30.7" fill="#fffbc3" stroke="#fffbc3" stroke-width="0.35" stroke-linejoin="round"/>
<polygon points="470.6,29.3 467.4,30.7 470.6,31.8 473.9,30.5" fill="#fffcc5" stroke="#fffcc5" stroke-width="0.35" stroke-linejoin="round"/>
<polygon points="477.1,29.2 473.9,30.5 477.2,31.6 480.4,30.4" fill="#fffcc6" stroke="#fffcc6" stroke-width="0.35" stroke-linejoin="round"/>
<polygon points="483.6,29.2 480.4,30.4 483.7,31.6 486.9,30.5" fill="#fffcc6" stroke="#fffcc6" stroke-width="0.35" stroke-linejoin="round"/>
<polygon points="441.4,33.0 438.0,34.8 441.2,35.8 444.5,34.0" fill="#fff6b5" stroke="#fff6b5" stroke-width="0.35" stroke-linejoin="round"/>
<polygon points="447.9,32.2 444.5,34.0 447.7,35.1 451.1,33.3" fill="#fff7b9" stroke="#fff7b9" stroke-width="0.35" stroke-linejoin="round"/>
<polygon points="454.4,31.6 451.1,33.3 454.3,34.4 457.6,32.6" fill="#fff9bd" stroke="#fff9bd" stroke-width="0.35" stroke-linejoin="round"/>
<polygon points="460.9,31.0 457.6,32.6 460.8,33.7 464.1,32.1" fill="#fffac0" stroke="#fffac0" stroke-width="0.35" stroke-linejoin="round"/>
<polygon points="467.4,30.7 464.1,32.1 467.4,33.3 470.6,31.8" fill="#fffbc2" stroke="#fffbc2" stroke-width="0.35" stroke-linejoin="round"/>
<polygon points="473.9,30.5 470.6,31.8 473.9,33.0 477.2,31.6" fill="#fffcc4" stroke="#fffcc4" stroke-width="0.35" stroke-linejoin="round"/>
<polygon points="486.9,30.5 483.7,31.6 487.0,33.0 490.2,31.8" fill="#fffcc4" stroke="#fffcc4" stroke-width="0.35" stroke-linejoin="round"/>
<polygon points="480.4,30.4 477.2,31.6 480.5,32.9 483.7,31.6" fill="#fffcc4" stroke="#fffcc4" stroke-width="0.35" stroke-linejoin="round"/>
<polygon points="438.0,34.8 434.7,36.6 437.8,37.6 441.2,35.8" fill="#fff4b0" stroke="#fff4b0" stroke-width="0.35" stroke-linejoin="round"/>
<polygon points="444.5,34.0 441.2,35.8 444.4,36.9 447.7,35.1" fill="#fff5b4" stroke="#fff5b4" stroke-width="0.35" stroke-linejoin="round"/>
<polygon points="451.1,33.3 447.7,35.1 450.9,36.1 454.3,34.4" fill="#fff7b9" stroke="#fff7b9" stroke-width="0.35" stroke-linejoin="round"/>
<polygon points="457.6,32.6 454.3,34.4 457.5,35.5 460.8,33.7" fill="#fff9bc" stroke="#fff9bc" stroke-width="0.35" stroke-linejoin="round"/>
<polygon points="464.1,32.1 460.8,33.7 464.1,34.9 467.4,33.3" fill="#fffabf" stroke="#fffabf" stroke-width="0.35" stroke-linejoin="round"/>
<polygon points="470.6,31.8 467.4,33.3 470.6,34.5 473.9,33.0" fill="#fffbc1" stroke="#fffbc1" stroke-width="0.35" stroke-linejoin="round"/>
<polygon points="490.2,31.8 487.0,33.0 490.4,34.5 493.6,33.3" fill="#fffbc1" stroke="#fffbc1" stroke-width="0.35" stroke-linejoin="round"/>
<polygon points="477.2,31.6 473.9,33.0 477.2,34.3 480.5,32.9" fill="#fffbc2" stroke="#fffbc2" stroke-width="0.35" stroke-linejoin="round"/>
<polygon points="483.7,31.6 480.5,32.9 483.8,34.3 487.0,33.0" fill="#fffbc2" stroke="#fffbc2" stroke-width="0.35" stroke-linejoin="round"/>
<polygon points="434.7,36.6 431.3,38.5 434.4,39.5 437.8,37.6" fill="#fff2ab" stroke="#fff2ab" stroke-width="0.35" stroke-linejoin="round"/>
<polygon points="441.2,35.8 437.8,37.6 441.0,38.7 444.4,36.9" fill="#fff4b0" stroke="#fff4b0" stroke-width="0.35" stroke-linejoin="round"/>
<polygon points="447.7,35.1 444.4,36.9 447.6,38.0 450.9,36.1" fill="#fff5b4" stroke="#fff5b4" stroke-width="0.35" stroke-linejoin="round"/>
<polygon points="454.3,34.4 450.9,36.1 454.2,37.2 457.5,35.5" fill="#fff7b8" stroke="#fff7b8" stroke-width="0.35" stroke-linejoin="round"/>
<polygon points="460.8,33.7 457.5,35.5 460.8,36.6 464.1,34.9" fill="#fff8bc" stroke="#fff8bc" stroke-width="0.35" stroke-linejoin="round"/>
<polygon points="467.4,33.3 464.1,34.9 467.4,36.1 470.6,34.5" fill="#fff9be" stroke="#fff9be" stroke-width="0.35" stroke-linejoin="round"/>
<polygon points="493.6,33.3 490.4,34.5 493.7,36.2 496.9,35.0" fill="#fff9be" stroke="#fff9be" stroke-width="0.35" stroke-linejoin="round"/>
<polygon points="473.9,33.0 470.6,34.5 473.9,35.7 477.2,34.3" fill="#fffac0" stroke="#fffac0" stroke-width="0.35" stroke-linejoin="round"/>
<polygon points="487.0,33.0 483.8,34.3 487.1,35.7 490.4,34.5" fill="#fffac0" stroke="#fffac0" stroke-width="0.35" stroke-linejoin="round"/>
<polygon points="480.5,32.9 477.2,34.3 480.5,35.6 483.8,34.3" fill="#fffac1" stroke="#fffac1" stroke-width="0.35" stroke-linejoin="round"/>
<polygon points="431.3,38.5 427.9,40.4 431.0,41.4 434.4,39.5" fill="#fff0a6" stroke="#fff0a6" stroke-width="0.35" stroke-linejoin="round"/>
<polygon points="437.8,37.6 434.4,39.5 437.6,40.6 441.0,38.7" fill="#fff2ab" stroke="#fff2ab" stroke-width="0.35" stroke-linejoin="round"/>
<polygon points="444.4,36.9 441.0,38.7 444.2,39.8 447.6,38.0" fill="#fff3af" stroke="#fff3af" stroke-width="0.35" stroke-linejoin="round"/>
<polygon points="450.9,36.1 447.6,38.0 450.8,39.1 454.2,37.2" fill="#fff5b3" stroke="#fff5b3" stroke-width="0.35" stroke-linejoin="round"/>
<polygon points="457.5,35.5 454.2,37.2 457.4,38.4 460.8,36.6" fill="#fff7b7" stroke="#fff7b7" stroke-width="0.35" stroke-linejoin="round"/>
<polygon points="464.1,34.9 460.8,36.6 464.0,37.8 467.4,36.1" fill="#fff8bb" stroke="#fff8bb" stroke-width="0.35" stroke-linejoin="round"/>
<polygon points="496.9,35.0 493.7,36.2 497.1,38.3 500.3,37.1" fill="#fff7b9" stroke="#fff7b9" stroke-width="0.35" stroke-linejoin="round"/>
<polygon points="470.6,34.5 467.4,36.1 470.7,37.3 473.9,35.7" fill="#fff9bd" stroke="#fff9bd" stroke-width="0.35" stroke-linejoin="round"/>
<polygon points="490.4,34.5 487.1,35.7 490.5,37.4 493.7,36.2" fill="#fff9bd" stroke="#fff9bd" stroke-width="0.35" stroke-linejoin="round"/>
<polygon points="477.2,34.3 473.9,35.7 477.3,37.0 480.5,35.6" fill="#fff9be" stroke="#fff9be" stroke-width="0.35" stroke-linejoin="round"/>
<polygon points="483.8,34.3 480.5,35.6 483.9,37.1 487.1,35.7" fill="#fff9be" stroke="#fff9be" stroke-width="0.35" stroke-linejoin="round"/>
<polygon points="427.9,40.4 424.4,42.3 427.6,43.5 431.0,41.4" fill="#ffeda1" stroke="#ffeda1" stroke-width="0.35" stroke-linejoin="round"/>
<polygon points="434.4,39.5 431.0,41.4 434.2,42.6 437.6,40.6" fill="#fff0a6" stroke="#fff0a6" stroke-width="0.35" stroke-linejoin="round"/>
<polygon points="441.0,38.7 437.6,40.6 440.8,41.8 444.2,39.8" fill="#fff2aa" stroke="#fff2aa" stroke-width="0.35" stroke-linejoin="round"/>
<polygon points="447.6,38.0 444.2,39.8 447.5,41.0 450.8,39.1" fill="#fff3af" stroke="#fff3af" stroke-width="0.35" stroke-linejoin="round"/>
<polygon points="454.2,37.2 450.8,39.1 454.1,40.3 457.4,38.4" fill="#fff5b3" stroke="#fff5b3" stroke-width="0.35" stroke-linejoin="round"/>
<polygon points="500.3,37.1 497.1,38.3 500.5,41.0 503.7,39.8" fill="#fff4b1" stroke="#fff4b1" stroke-width="0.35" stroke-linejoin="round"/>
<polygon points="460.8,36.6 457.4,38.4 460.7,39.7 464.0,37.8" fill="#fff6b6" stroke="#fff6b6" stroke-width="0.35" stroke-linejoin="round"/>
<polygon points="467.4,36.1 464.0,37.8 467.3,39.1 470.7,37.3" fill="#fff7b9" stroke="#fff7b9" stroke-width="0.35" stroke-linejoin="round"/>
<polygon points="493.7,36.2 490.5,37.4 493.9,39.6 497.1,38.3" fill="#fff7b8" stroke="#fff7b8" stroke-width="0.35" stroke-linejoin="round"/>
<polygon points="473.9,35.7 470.7,37.3 474.0,38.7 477.3,37.0" fill="#fff8bb" stroke="#fff8bb" stroke-width="0.35" stroke-linejoin="round"/>
<polygon points="487.1,35.7 483.9,37.1 487.3,38.8 490.5,37.4" fill="#fff8bb" stroke="#fff8bb" stroke-width="0.35" stroke-linejoin="round"/>
<polygon points="480.5,35.6 477.3,37.0 480.6,38.6 483.9,37.1" fill="#fff8bc" stroke="#fff8bc" stroke-width="0.35" stroke-linejoin="round"/>
<polygon points="424.4,42.3 421.0,44.4 424.2,45.6 427.6,43.5" fill="#ffeb9c" stroke="#ffeb9c" stroke-width="0.35" stroke-linejoin="round"/>
<polygon points="431.0,41.4 427.6,43.5 430.8,44.8 434.2,42.6" fill="#ffeda0" stroke="#ffeda0" stroke-width="0.35" stroke-linejoin="round"/>
<polygon points="437.6,40.6 434.2,42.6 437.4,43.9 440.8,41.8" fill="#ffefa5" stroke="#ffefa5" stroke-width="0.35" stroke-linejoin="round"/>
<polygon points="444.2,39.8 440.8,41.8 444.1,43.1 447.5,41.0" fill="#fff1a9" stroke="#fff1a9" stroke-width="0.35" stroke-linejoin="round"/>
<polygon points="503.7,39.8 500.5,41.0 503.9,44.2 507.1,42.9" fill="#fff0a7" stroke="#fff0a7" stroke-width="0.35" stroke-linejoin="round"/>
<polygon points="450.8,39.1 447.5,41.0 450.7,42.3 454.1,40.3" fill="#fff3ad" stroke="#fff3ad" stroke-width="0.35" stroke-linejoin="round"/>
<polygon points="457.4,38.4 454.1,40.3 457.4,41.7 460.7,39.7" fill="#fff4b1" stroke="#fff4b1" stroke-width="0.35" stroke-linejoin="round"/>
<polygon points="497.1,38.3 493.9,39.6 497.3,42.3 500.5,41.0" fill="#fff4b0" stroke="#fff4b0" stroke-width="0.35" stroke-linejoin="round"/>
<polygon points="464.0,37.8 460.7,39.7 464.0,41.0 467.3,39.1" fill="#fff6b5" stroke="#fff6b5" stroke-width="0.35" stroke-linejoin="round"/>
<polygon points="470.7,37.3 467.3,39.1 470.7,40.6 474.0,38.7" fill="#fff7b7" stroke="#fff7b7" stroke-width="0.35" stroke-linejoin="round"/>
<polygon points="490.5,37.4 487.3,38.8 490.6,41.0 493.9,39.6" fill="#fff6b6" stroke="#fff6b6" stroke-width="0.35" stroke-linejoin="round"/>
<polygon points="477.3,37.0 474.0,38.7 477.3,40.3 480.6,38.6" fill="#fff7b9" stroke="#fff7b9" stroke-width="0.35" stroke-linejoin="round"/>
<polygon points="483.9,37.1 480.6,38.6 484.0,40.3 487.3,38.8" fill="#fff7b9" stroke="#fff7b9" stroke-width="0.35" stroke-linejoin="round"/>
<polygon points="421.0,44.4 417.5,46.9 420.7,48.2 424.2,45.6" fill="#ffe895" stroke="#ffe895" stroke-width="0.35" stroke-linejoin="round"/>
<polygon points="427.6,43.5 424.2,45.6 427.3,46.9 430.8,44.8" fill="#ffea9b" stroke="#ffea9b" stroke-width="0.35" stroke-linejoin="round"/>
<polygon points="434.2,42.6 430.8,44.8 434.0,46.1 437.4,43.9" fill="#ffec9f" stroke="#ffec9f" stroke-width="0.35" stroke-linejoin="round"/>
<polygon points="507.1,42.9 503.9,44.2 507.3,47.9 510.5,46.5" fill="#ffea9a" stroke="#ffea9a" stroke-width="0.35" stroke-linejoin="round"/>
<polygon points="440.8,41.8 437.4,43.9 440.7,45.2 444.1,43.1" fill="#ffeea4" stroke="#ffeea4" stroke-width="0.35" stroke-linejoin="round"/>
<polygon points="447.5,41.0 444.1,43.1 447.3,44.4 450.7,42.3" fill="#fff0a8" stroke="#fff0a8" stroke-width="0.35" stroke-linejoin="round"/>
<polygon points="500.5,41.0 497.3,42.3 500.7,45.6 503.9,44.2" fill="#ffefa5" stroke="#ffefa5" stroke-width="0.35" stroke-linejoin="round"/>
<polygon points="454.1,40.3 450.7,42.3 454.0,43.7 457.4,41.7" fill="#fff2ac" stroke="#fff2ac" stroke-width="0.35" stroke-linejoin="round"/>
<polygon points="460.7,39.7 457.4,41.7 460.7,43.1 464.0,41.0" fill="#fff3af" stroke="#fff3af" stroke-width="0.35" stroke-linejoin="round"/>
<polygon points="493.9,39.6 490.6,41.0 494.0,43.8 497.3,42.3" fill="#fff3ae" stroke="#fff3ae" stroke-width="0.35" stroke-linejoin="round"/>
<polygon points="467.3,39.1 464.0,41.0 467.3,42.6 470.7,40.6" fill="#fff5b2" stroke="#fff5b2" stroke-width="0.35" stroke-linejoin="round"/>
<polygon points="487.3,38.8 484.0,40.3 487.4,42.6 490.6,41.0" fill="#fff5b3" stroke="#fff5b3" stroke-width="0.35" stroke-linejoin="round"/>
<polygon points="474.0,38.7 470.7,40.6 474.0,42.2 477.3,40.3" fill="#fff6b5" stroke="#fff6b5" stroke-width="0.35" stroke-linejoin="round"/>
<polygon points="417.5,46.9 414.1,50.7 417.2,52.0 420.7,48.2" fill="#fee28a" stroke="#fee28a" stroke-width="0.35" stroke-linejoin="round"/>
<polygon points="480.6,38.6 477.3,40.3 480.7,42.1 484.0,40.3" fill="#fff6b5" stroke="#fff6b5" stroke-width="0.35" stroke-linejoin="round"/>
<polygon points="510.5,46.5 507.3,47.9 510.7,53.3 513.9,51.9" fill="#fee188" stroke="#fee188" stroke-width="0.35" stroke-linejoin="round"/>
<polygon points="424.2,45.6 420.7,48.2 423.9,49.5 427.3,46.9" fill="#ffe794" stroke="#ffe794" stroke-width="0.35" stroke-linejoin="round"/>
<polygon points="430.8,44.8 427.3,46.9 430.5,48.3 434.0,46.1" fill="#ffea99" stroke="#ffea99" stroke-width="0.35" stroke-linejoin="round"/>
<polygon points="503.9,44.2 500.7,45.6 504.1,49.3 507.3,47.9" fill="#ffe999" stroke="#ffe999" stroke-width="0.35" stroke-linejoin="round"/>
<polygon points="437.4,43.9 434.0,46.1 437.2,47.5 440.7,45.2" fill="#ffec9e" stroke="#ffec9e" stroke-width="0.35" stroke-linejoin="round"/>
<polygon points="444.1,43.1 440.7,45.2 443.9,46.6 447.3,44.4" fill="#ffeea2" stroke="#ffeea2" stroke-width="0.35" stroke-linejoin="round"/>
<polygon points="414.1,50.7 410.6,55.5 413.8,56.9 417.2,52.0" fill="#feda79" stroke="#feda79" stroke-width="0.35" stroke-linejoin="round"/>
<polygon points="513.9,51.9 510.7,53.3 514.1,58.2 517.3,56.7" fill="#fed674" stroke="#fed674" stroke-width="0.35" stroke-linejoin="round"/>
<polygon points="450.7,42.3 447.3,44.4 450.6,45.9 454.0,43.7" fill="#fff0a6" stroke="#fff0a6" stroke-width="0.35" stroke-linejoin="round"/>
<polygon points="497.3,42.3 494.0,43.8 497.4,47.1 500.7,45.6" fill="#ffeea3" stroke="#ffeea3" stroke-width="0.35" stroke-linejoin="round"/>
<polygon points="457.4,41.7 454.0,43.7 457.3,45.2 460.7,43.1" fill="#fff1aa" stroke="#fff1aa" stroke-width="0.35" stroke-linejoin="round"/>
<polygon points="464.0,41.0 460.7,43.1 464.0,44.7 467.3,42.6" fill="#fff2ad" stroke="#fff2ad" stroke-width="0.35" stroke-linejoin="round"/>
<polygon points="490.6,41.0 487.4,42.6 490.8,45.5 494.0,43.8" fill="#fff2ab" stroke="#fff2ab" stroke-width="0.35" stroke-linejoin="round"/>
<polygon points="470.7,40.6 467.3,42.6 470.7,44.2 474.0,42.2" fill="#fff3af" stroke="#fff3af" stroke-width="0.35" stroke-linejoin="round"/>
<polygon points="484.0,40.3 480.7,42.1 484.1,44.4 487.4,42.6" fill="#fff4b0" stroke="#fff4b0" stroke-width="0.35" stroke-linejoin="round"/>
<polygon points="477.3,40.3 474.0,42.2 477.4,44.1 480.7,42.1" fill="#fff4b1" stroke="#fff4b1" stroke-width="0.35" stroke-linejoin="round"/>
<polygon points="420.7,48.2 417.2,52.0 420.4,53.5 423.9,49.5" fill="#fee188" stroke="#fee188" stroke-width="0.35" stroke-linejoin="round"/>
<polygon points="507.3,47.9 504.1,49.3 507.5,54.8 510.7,53.3" fill="#fee186" stroke="#fee186" stroke-width="0.35" stroke-linejoin="round"/>
<polygon points="410.6,55.5 407.2,60.4 410.3,61.9 413.8,56.9" fill="#fec965" stroke="#fec965" stroke-width="0.35" stroke-linejoin="round"/>
<polygon points="427.3,46.9 423.9,49.5 427.1,50.9 430.5,48.3" fill="#ffe692" stroke="#ffe692" stroke-width="0.35" stroke-linejoin="round"/>
<polygon points="517.3,56.7 514.1,58.2 517.6,62.6 520.8,60.9" fill="#fec661" stroke="#fec661" stroke-width="0.35" stroke-linejoin="round"/>
<polygon points="434.0,46.1 430.5,48.3 433.8,49.7 437.2,47.5" fill="#ffe997" stroke="#ffe997" stroke-width="0.35" stroke-linejoin="round"/>
<polygon points="500.7,45.6 497.4,47.1 500.9,50.9 504.1,49.3" fill="#ffe896" stroke="#ffe896" stroke-width="0.35" stroke-linejoin="round"/>
<polygon points="440.7,45.2 437.2,47.5 440.5,48.9 443.9,46.6" fill="#ffeb9c" stroke="#ffeb9c" stroke-width="0.35" stroke-linejoin="round"/>
<polygon points="447.3,44.4 443.9,46.6 447.2,48.1 450.6,45.9" fill="#ffeda0" stroke="#ffeda0" stroke-width="0.35" stroke-linejoin="round"/>
<polygon points="417.2,52.0 413.8,56.9 417.0,58.5 420.4,53.5" fill="#fed977" stroke="#fed977" stroke-width="0.35" stroke-linejoin="round"/>
<polygon points="510.7,53.3 507.5,54.8 510.9,59.8 514.1,58.2" fill="#fed471" stroke="#fed471" stroke-width="0.35" stroke-linejoin="round"/>
<polygon points="494.0,43.8 490.8,45.5 494.2,48.8 497.4,47.1" fill="#ffeda0" stroke="#ffeda0" stroke-width="0.35" stroke-linejoin="round"/>
<polygon points="454.0,43.7 450.6,45.9 453.9,47.4 457.3,45.2" fill="#ffefa4" stroke="#ffefa4" stroke-width="0.35" stroke-linejoin="round"/>
<polygon points="460.7,43.1 457.3,45.2 460.6,46.8 464.0,44.7" fill="#fff0a7" stroke="#fff0a7" stroke-width="0.35" stroke-linejoin="round"/>
<polygon points="487.4,42.6 484.1,44.4 487.5,47.2 490.8,45.5" fill="#fff0a7" stroke="#fff0a7" stroke-width="0.35" stroke-linejoin="round"/>
<polygon points="467.3,42.6 464.0,44.7 467.3,46.4 470.7,44.2" fill="#fff1aa" stroke="#fff1aa" stroke-width="0.35" stroke-linejoin="round"/>
<polygon points="474.0,42.2 470.7,44.2 474.0,46.1 477.4,44.1" fill="#fff2ab" stroke="#fff2ab" stroke-width="0.35" stroke-linejoin="round"/>
<polygon points="480.7,42.1 477.4,44.1 480.8,46.3 484.1,44.4" fill="#fff2ab" stroke="#fff2ab" stroke-width="0.35" stroke-linejoin="round"/>
<polygon points="423.9,49.5 420.4,53.5 423.6,55.0 427.1,50.9" fill="#fee186" stroke="#fee186" stroke-width="0.35" stroke-linejoin="round"/>
<polygon points="504.1,49.3 500.9,50.9 504.3,56.4 507.5,54.8" fill="#fedf84" stroke="#fedf84" stroke-width="0.35" stroke-linejoin="round"/>
<polygon points="413.8,56.9 410.3,61.9 413.5,63.4 417.0,58.5" fill="#fec763" stroke="#fec763" stroke-width="0.35" stroke-linejoin="round"/>
<polygon points="430.5,48.3 427.1,50.9 430.3,52.5 433.8,49.7" fill="#ffe590" stroke="#ffe590" stroke-width="0.35" stroke-linejoin="round"/>
<polygon points="514.1,58.2 510.9,59.8 514.4,64.4 517.6,62.6" fill="#fec35e" stroke="#fec35e" stroke-width="0.35" stroke-linejoin="round"/>
<polygon points="437.2,47.5 433.8,49.7 437.0,51.3 440.5,48.9" fill="#ffe895" stroke="#ffe895" stroke-width="0.35" stroke-linejoin="round"/>
<polygon points="497.4,47.1 494.2,48.8 497.6,52.6 500.9,50.9" fill="#ffe793" stroke="#ffe793" stroke-width="0.35" stroke-linejoin="round"/>
<polygon points="443.9,46.6 440.5,48.9 443.7,50.5 447.2,48.1" fill="#ffea9a" stroke="#ffea9a" stroke-width="0.35" stroke-linejoin="round"/>
<polygon points="450.6,45.9 447.2,48.1 450.5,49.7 453.9,47.4" fill="#ffec9e" stroke="#ffec9e" stroke-width="0.35" stroke-linejoin="round"/>
<polygon points="490.8,45.5 487.5,47.2 490.9,50.6 494.2,48.8" fill="#ffeb9d" stroke="#ffeb9d" stroke-width="0.35" stroke-linejoin="round"/>
<polygon points="507.5,54.8 504.3,56.4 507.7,61.5 510.9,59.8" fill="#fed26f" stroke="#fed26f" stroke-width="0.35" stroke-linejoin="round"/>
<polygon points="420.4,53.5 417.0,58.5 420.1,60.0 423.6,55.0" fill="#fed775" stroke="#fed775" stroke-width="0.35" stroke-linejoin="round"/>
<polygon points="457.3,45.2 453.9,47.4 457.2,49.1 460.6,46.8" fill="#ffeda1" stroke="#ffeda1" stroke-width="0.35" stroke-linejoin="round"/>
<polygon points="464.0,44.7 460.6,46.8 463.9,48.6 467.3,46.4" fill="#ffefa4" stroke="#ffefa4" stroke-width="0.35" stroke-linejoin="round"/>
<polygon points="484.1,44.4 480.8,46.3 484.2,49.2 487.5,47.2" fill="#ffeea3" stroke="#ffeea3" stroke-width="0.35" stroke-linejoin="round"/>
<polygon points="470.7,44.2 467.3,46.4 470.7,48.3 474.0,46.1" fill="#ffefa6" stroke="#ffefa6" stroke-width="0.35" stroke-linejoin="round"/>
<polygon points="477.4,44.1 474.0,46.1 477.4,48.5 480.8,46.3" fill="#fff0a6" stroke="#fff0a6" stroke-width="0.35" stroke-linejoin="round"/>
<polygon points="427.1,50.9 423.6,55.0 426.8,56.6 430.3,52.5" fill="#fedf84" stroke="#fedf84" stroke-width="0.35" stroke-linejoin="round"/>
<polygon points="500.9,50.9 497.6,52.6 501.0,58.2 504.3,56.4" fill="#fede81" stroke="#fede81" stroke-width="0.35" stroke-linejoin="round"/>
<polygon points="417.0,58.5 413.5,63.4 416.7,65.1 420.1,60.0" fill="#fec560" stroke="#fec560" stroke-width="0.35" stroke-linejoin="round"/>
<polygon points="433.8,49.7 430.3,52.5 433.5,54.1 437.0,51.3" fill="#fee48d" stroke="#fee48d" stroke-width="0.35" stroke-linejoin="round"/>
<polygon points="510.9,59.8 507.7,61.5 511.1,66.3 514.4,64.4" fill="#fec05b" stroke="#fec05b" stroke-width="0.35" stroke-linejoin="round"/>
<polygon points="440.5,48.9 437.0,51.3 440.3,53.0 443.7,50.5" fill="#ffe693" stroke="#ffe693" stroke-width="0.35" stroke-linejoin="round"/>
<polygon points="494.2,48.8 490.9,50.6 494.3,54.5 497.6,52.6" fill="#fee58f" stroke="#fee58f" stroke-width="0.35" stroke-linejoin="round"/>
<polygon points="447.2,48.1 443.7,50.5 447.0,52.2 450.5,49.7" fill="#ffe897" stroke="#ffe897" stroke-width="0.35" stroke-linejoin="round"/>
<polygon points="453.9,47.4 450.5,49.7 453.8,51.5 457.2,49.1" fill="#ffea9a" stroke="#ffea9a" stroke-width="0.35" stroke-linejoin="round"/>
<polygon points="487.5,47.2 484.2,49.2 487.6,52.7 490.9,50.6" fill="#ffe998" stroke="#ffe998" stroke-width="0.35" stroke-linejoin="round"/>
<polygon points="504.3,56.4 501.0,58.2 504.4,63.4 507.7,61.5" fill="#fece6b" stroke="#fece6b" stroke-width="0.35" stroke-linejoin="round"/>
<polygon points="423.6,55.0 420.1,60.0 423.4,61.6 426.8,56.6" fill="#fed572" stroke="#fed572" stroke-width="0.35" stroke-linejoin="round"/>
<polygon points="460.6,46.8 457.2,49.1 460.5,51.0 463.9,48.6" fill="#ffec9e" stroke="#ffec9e" stroke-width="0.35" stroke-linejoin="round"/>
<polygon points="480.8,46.3 477.4,48.5 480.8,51.4 484.2,49.2" fill="#ffec9e" stroke="#ffec9e" stroke-width="0.35" stroke-linejoin="round"/>
<polygon points="467.3,46.4 463.9,48.6 467.3,50.6 470.7,48.3" fill="#ffeda0" stroke="#ffeda0" stroke-width="0.35" stroke-linejoin="round"/>
<polygon points="474.0,46.1 470.7,48.3 474.1,50.7 477.4,48.5" fill="#ffeda0" stroke="#ffeda0" stroke-width="0.35" stroke-linejoin="round"/>
<polygon points="430.3,52.5 426.8,56.6 430.1,58.3 433.5,54.1" fill="#fede81" stroke="#fede81" stroke-width="0.35" stroke-linejoin="round"/>
<polygon points="497.6,52.6 494.3,54.5 497.7,60.2 501.0,58.2" fill="#fedc7d" stroke="#fedc7d" stroke-width="0.35" stroke-linejoin="round"/>
<polygon points="507.7,61.5 504.4,63.4 507.9,68.5 511.1,66.3" fill="#febc57" stroke="#febc57" stroke-width="0.35" stroke-linejoin="round"/>
<polygon points="420.1,60.0 416.7,65.1 419.9,66.9 423.4,61.6" fill="#fec25e" stroke="#fec25e" stroke-width="0.35" stroke-linejoin="round"/>
<polygon points="437.0,51.3 433.5,54.1 436.8,55.8 440.3,53.0" fill="#fee38a" stroke="#fee38a" stroke-width="0.35" stroke-linejoin="round"/>
<polygon points="490.9,50.6 487.6,52.7 491.0,56.6 494.3,54.5" fill="#fee38b" stroke="#fee38b" stroke-width="0.35" stroke-linejoin="round"/>
<polygon points="443.7,50.5 440.3,53.0 443.6,54.7 447.0,52.2" fill="#fee58f" stroke="#fee58f" stroke-width="0.35" stroke-linejoin="round"/>
<polygon points="450.5,49.7 447.0,52.2 450.4,54.0 453.8,51.5" fill="#ffe793" stroke="#ffe793" stroke-width="0.35" stroke-linejoin="round"/>
<polygon points="484.2,49.2 480.8,51.4 484.2,54.9 487.6,52.7" fill="#ffe693" stroke="#ffe693" stroke-width="0.35" stroke-linejoin="round"/>
<polygon points="457.2,49.1 453.8,51.5 457.1,53.4 460.5,51.0" fill="#ffe897" stroke="#ffe897" stroke-width="0.35" stroke-linejoin="round"/>
<polygon points="501.0,58.2 497.7,60.2 501.2,65.3 504.4,63.4" fill="#fecb67" stroke="#fecb67" stroke-width="0.35" stroke-linejoin="round"/>
<polygon points="477.4,48.5 474.1,50.7 477.5,53.7 480.8,51.4" fill="#ffe998" stroke="#ffe998" stroke-width="0.35" stroke-linejoin="round"/>
<polygon points="463.9,48.6 460.5,51.0 463.9,53.0 467.3,50.6" fill="#ffe999" stroke="#ffe999" stroke-width="0.35" stroke-linejoin="round"/>
<polygon points="470.7,48.3 467.3,50.6 470.7,53.1 474.1,50.7" fill="#ffea9a" stroke="#ffea9a" stroke-width="0.35" stroke-linejoin="round"/>
<polygon points="426.8,56.6 423.4,61.6 426.6,63.4 430.1,58.3" fill="#fed370" stroke="#fed370" stroke-width="0.35" stroke-linejoin="round"/>
<polygon points="494.3,54.5 491.0,56.6 494.4,62.2 497.7,60.2" fill="#feda78" stroke="#feda78" stroke-width="0.35" stroke-linejoin="round"/>
<polygon points="433.5,54.1 430.1,58.3 433.3,60.0 436.8,55.8" fill="#fedd7e" stroke="#fedd7e" stroke-width="0.35" stroke-linejoin="round"/>
<polygon points="504.4,63.4 501.2,65.3 504.6,71.1 507.9,68.5" fill="#feb752" stroke="#feb752" stroke-width="0.35" stroke-linejoin="round"/>
<polygon points="423.4,61.6 419.9,66.9 423.1,68.9 426.6,63.4" fill="#febf5a" stroke="#febf5a" stroke-width="0.35" stroke-linejoin="round"/>
<polygon points="440.3,53.0 436.8,55.8 440.1,57.6 443.6,54.7" fill="#fee187" stroke="#fee187" stroke-width="0.35" stroke-linejoin="round"/>
<polygon points="487.6,52.7 484.2,54.9 487.7,58.8 491.0,56.6" fill="#fee085" stroke="#fee085" stroke-width="0.35" stroke-linejoin="round"/>
<polygon points="447.0,52.2 443.6,54.7 446.9,56.6 450.4,54.0" fill="#fee38c" stroke="#fee38c" stroke-width="0.35" stroke-linejoin="round"/>
<polygon points="480.8,51.4 477.5,53.7 480.9,57.1 484.2,54.9" fill="#fee48d" stroke="#fee48d" stroke-width="0.35" stroke-linejoin="round"/>
<polygon points="453.8,51.5 450.4,54.0 453.7,56.0 457.1,53.4" fill="#fee58f" stroke="#fee58f" stroke-width="0.35" stroke-linejoin="round"/>
<polygon points="460.5,51.0 457.1,53.4 460.5,55.5 463.9,53.0" fill="#ffe692" stroke="#ffe692" stroke-width="0.35" stroke-linejoin="round"/>
<polygon points="497.7,60.2 494.4,62.2 497.9,67.5 501.2,65.3" fill="#fec662" stroke="#fec662" stroke-width="0.35" stroke-linejoin="round"/>
<polygon points="474.1,50.7 470.7,53.1 474.1,56.0 477.5,53.7" fill="#ffe691" stroke="#ffe691" stroke-width="0.35" stroke-linejoin="round"/>
<polygon points="467.3,50.6 463.9,53.0 467.3,55.5 470.7,53.1" fill="#ffe793" stroke="#ffe793" stroke-width="0.35" stroke-linejoin="round"/>
<polygon points="430.1,58.3 426.6,63.4 429.9,65.2 433.3,60.0" fill="#fed06c" stroke="#fed06c" stroke-width="0.35" stroke-linejoin="round"/>
<polygon points="491.0,56.6 487.7,58.8 491.1,64.5 494.4,62.2" fill="#fed673" stroke="#fed673" stroke-width="0.35" stroke-linejoin="round"/>
<polygon points="436.8,55.8 433.3,60.0 436.6,61.9 440.1,57.6" fill="#fedb7b" stroke="#fedb7b" stroke-width="0.35" stroke-linejoin="round"/>
<polygon points="501.2,65.3 497.9,67.5 501.3,74.4 504.6,71.1" fill="#feb04d" stroke="#feb04d" stroke-width="0.35" stroke-linejoin="round"/>
<polygon points="426.6,63.4 423.1,68.9 426.4,71.3 429.9,65.2" fill="#febb56" stroke="#febb56" stroke-width="0.35" stroke-linejoin="round"/>
<polygon points="484.2,54.9 480.9,57.1 484.3,61.1 487.7,58.8" fill="#fedd80" stroke="#fedd80" stroke-width="0.35" stroke-linejoin="round"/>
<polygon points="443.6,54.7 440.1,57.6 443.4,59.5 446.9,56.6" fill="#fedf84" stroke="#fedf84" stroke-width="0.35" stroke-linejoin="round"/>
<polygon points="450.4,54.0 446.9,56.6 450.2,58.6 453.7,56.0" fill="#fee188" stroke="#fee188" stroke-width="0.35" stroke-linejoin="round"/>
<polygon points="477.5,53.7 474.1,56.0 477.5,59.5 480.9,57.1" fill="#fee186" stroke="#fee186" stroke-width="0.35" stroke-linejoin="round"/>
<polygon points="457.1,53.4 453.7,56.0 457.1,58.1 460.5,55.5" fill="#fee38a" stroke="#fee38a" stroke-width="0.35" stroke-linejoin="round"/>
<polygon points="470.7,53.1 467.3,55.5 470.7,58.5 474.1,56.0" fill="#fee38a" stroke="#fee38a" stroke-width="0.35" stroke-linejoin="round"/>
<polygon points="494.4,62.2 491.1,64.5 494.5,70.1 497.9,67.5" fill="#fec15c" stroke="#fec15c" stroke-width="0.35" stroke-linejoin="round"/>
<polygon points="463.9,53.0 460.5,55.5 463.9,58.0 467.3,55.5" fill="#fee38c" stroke="#fee38c" stroke-width="0.35" stroke-linejoin="round"/>
<polygon points="433.3,60.0 429.9,65.2 433.1,67.3 436.6,61.9" fill="#fecc68" stroke="#fecc68" stroke-width="0.35" stroke-linejoin="round"/>
<polygon points="491.2,73.0 487.8,76.6 490.9,114.4 494.2,113.1" fill="#eb2a20" stroke="#eb2a20" stroke-width="0.35" stroke-linejoin="round"/>
<polygon points="494.5,70.1 491.2,73.0 494.2,113.1 497.9,79.9" fill="#fd6a32" stroke="#fd6a32" stroke-width="0.35" stroke-linejoin="round"/>
<polygon points="487.7,58.8 484.3,61.1 487.8,66.9 491.1,64.5" fill="#fed06d" stroke="#fed06d" stroke-width="0.35" stroke-linejoin="round"/>
<polygon points="497.9,67.5 494.5,70.1 497.9,79.9 501.3,74.4" fill="#fea647" stroke="#fea647" stroke-width="0.35" stroke-linejoin="round"/>
<polygon points="440.1,57.6 436.6,61.9 439.9,64.0 443.4,59.5" fill="#fed977" stroke="#fed977" stroke-width="0.35" stroke-linejoin="round"/>
<polygon points="480.9,57.1 477.5,59.5 480.9,63.6 484.3,61.1" fill="#feda7a" stroke="#feda7a" stroke-width="0.35" stroke-linejoin="round"/>
<polygon points="429.9,65.2 426.4,71.3 429.7,74.0 433.1,67.3" fill="#feb651" stroke="#feb651" stroke-width="0.35" stroke-linejoin="round"/>
<polygon points="446.9,56.6 443.4,59.5 446.8,61.7 450.2,58.6" fill="#fedd7f" stroke="#fedd7f" stroke-width="0.35" stroke-linejoin="round"/>
<polygon points="474.1,56.0 470.7,58.5 474.1,62.1 477.5,59.5" fill="#fedd80" stroke="#fedd80" stroke-width="0.35" stroke-linejoin="round"/>
<polygon points="453.7,56.0 450.2,58.6 453.6,60.9 457.1,58.1" fill="#fedf83" stroke="#fedf83" stroke-width="0.35" stroke-linejoin="round"/>
<polygon points="467.3,55.5 463.9,58.0 467.3,61.2 470.7,58.5" fill="#fedf83" stroke="#fedf83" stroke-width="0.35" stroke-linejoin="round"/>
<polygon points="460.5,55.5 457.1,58.1 460.4,60.8 463.9,58.0" fill="#fee084" stroke="#fee084" stroke-width="0.35" stroke-linejoin="round"/>
<polygon points="491.1,64.5 487.8,66.9 491.2,73.0 494.5,70.1" fill="#feba55" stroke="#feba55" stroke-width="0.35" stroke-linejoin="round"/>
<polygon points="484.4,82.6 480.8,115.7 484.3,117.0 487.6,115.7" fill="#d8121f" stroke="#d8121f" stroke-width="0.35" stroke-linejoin="round"/>
<polygon points="487.8,76.6 484.4,82.6 487.6,115.7 490.9,114.4" fill="#e61f1d" stroke="#e61f1d" stroke-width="0.35" stroke-linejoin="round"/>
<polygon points="436.6,61.9 433.1,67.3 436.5,69.7 439.9,64.0" fill="#fec763" stroke="#fec763" stroke-width="0.35" stroke-linejoin="round"/>
<polygon points="480.8,115.7 477.4,117.0 480.9,118.3 484.3,117.0" fill="#9a0026" stroke="#9a0026" stroke-width="0.35" stroke-linejoin="round"/>
<polygon points="484.3,61.1 480.9,63.6 484.4,69.7 487.8,66.9" fill="#feca66" stroke="#feca66" stroke-width="0.35" stroke-linejoin="round"/>
<polygon points="443.4,59.5 439.9,64.0 443.3,66.4 446.8,61.7" fill="#fed472" stroke="#fed472" stroke-width="0.35" stroke-linejoin="round"/>
<polygon points="477.5,59.5 474.1,62.1 477.5,66.5 480.9,63.6" fill="#fed572" stroke="#fed572" stroke-width="0.35" stroke-linejoin="round"/>
<polygon points="433.1,67.3 429.7,74.0 433.0,77.7 436.5,69.7" fill="#feae4c" stroke="#feae4c" stroke-width="0.35" stroke-linejoin="round"/>
<polygon points="450.2,58.6 446.8,61.7 450.1,64.3 453.6,60.9" fill="#feda7a" stroke="#feda7a" stroke-width="0.35" stroke-linejoin="round"/>
<polygon points="470.7,58.5 467.3,61.2 470.7,65.0 474.1,62.1" fill="#feda78" stroke="#feda78" stroke-width="0.35" stroke-linejoin="round"/>
<polygon points="487.8,66.9 484.4,69.7 487.8,76.6 491.2,73.0" fill="#feb24e" stroke="#feb24e" stroke-width="0.35" stroke-linejoin="round"/>
<polygon points="463.9,58.0 460.4,60.8 463.8,64.2 467.3,61.2" fill="#fedb7b" stroke="#fedb7b" stroke-width="0.35" stroke-linejoin="round"/>
<polygon points="457.1,58.1 453.6,60.9 457.0,63.8 460.4,60.8" fill="#fedb7c" stroke="#fedb7c" stroke-width="0.35" stroke-linejoin="round"/>
<polygon points="474.1,85.3 470.6,117.0 474.0,118.3 477.4,117.0" fill="#d8121f" stroke="#d8121f" stroke-width="0.35" stroke-linejoin="round"/>
<polygon points="446.6,83.7 443.3,116.9 446.6,118.2 450.1,116.9" fill="#d8121f" stroke="#d8121f" stroke-width="0.35" stroke-linejoin="round"/>
<polygon points="439.9,64.0 436.5,69.7 439.8,72.6 443.3,66.4" fill="#fec15d" stroke="#fec15d" stroke-width="0.35" stroke-linejoin="round"/>
<polygon points="477.6,77.2 474.1,85.3 477.4,117.0 480.8,115.7" fill="#e51e1d" stroke="#e51e1d" stroke-width="0.35" stroke-linejoin="round"/>
<polygon points="443.2,76.3 440.0,115.6 443.3,116.9 446.6,83.7" fill="#e7211e" stroke="#e7211e" stroke-width="0.35" stroke-linejoin="round"/>
<polygon points="480.9,63.6 477.5,66.5 481.0,73.0 484.4,69.7" fill="#fec15d" stroke="#fec15d" stroke-width="0.35" stroke-linejoin="round"/>
<polygon points="450.1,116.9 446.6,118.2 450.0,119.6 453.5,118.3" fill="#9a0026" stroke="#9a0026" stroke-width="0.35" stroke-linejoin="round"/>
<polygon points="453.4,79.8 450.1,116.9 453.5,118.3 456.9,116.9" fill="#d8121f" stroke="#d8121f" stroke-width="0.35" stroke-linejoin="round"/>
<polygon points="456.9,116.9 453.5,118.3 456.9,119.6 460.3,118.3" fill="#9a0026" stroke="#9a0026" stroke-width="0.35" stroke-linejoin="round"/>
<polygon points="467.2,80.5 463.8,117.0 467.2,118.3 470.6,117.0" fill="#d8121f" stroke="#d8121f" stroke-width="0.35" stroke-linejoin="round"/>
<polygon points="439.8,72.6 436.4,85.2 440.0,115.6 443.2,76.3" fill="#fc6230" stroke="#fc6230" stroke-width="0.35" stroke-linejoin="round"/>
<polygon points="463.8,117.0 460.3,118.3 463.7,119.6 467.2,118.3" fill="#9a0026" stroke="#9a0026" stroke-width="0.35" stroke-linejoin="round"/>
<polygon points="470.6,117.0 467.2,118.3 470.6,119.6 474.0,118.3" fill="#9a0026" stroke="#9a0026" stroke-width="0.35" stroke-linejoin="round"/>
<polygon points="477.4,117.0 474.0,118.3 477.5,119.6 480.9,118.3" fill="#9a0026" stroke="#9a0026" stroke-width="0.35" stroke-linejoin="round"/>
<polygon points="460.3,78.9 456.9,116.9 460.3,118.3 463.8,117.0" fill="#d8121f" stroke="#d8121f" stroke-width="0.35" stroke-linejoin="round"/>
<polygon points="481.0,73.0 477.6,77.2 480.8,115.7 484.4,82.6" fill="#fc6531" stroke="#fc6531" stroke-width="0.35" stroke-linejoin="round"/>
<polygon points="436.5,69.7 433.0,77.7 436.4,85.2 439.8,72.6" fill="#fda144" stroke="#fda144" stroke-width="0.35" stroke-linejoin="round"/>
<polygon points="446.8,61.7 443.3,66.4 446.6,69.4 450.1,64.3" fill="#fece6a" stroke="#fece6a" stroke-width="0.35" stroke-linejoin="round"/>
<polygon points="474.1,62.1 470.7,65.0 474.1,69.8 477.5,66.5" fill="#fecc69" stroke="#fecc69" stroke-width="0.35" stroke-linejoin="round"/>
<polygon points="484.4,69.7 481.0,73.0 484.4,82.6 487.8,76.6" fill="#fea546" stroke="#fea546" stroke-width="0.35" stroke-linejoin="round"/>
<polygon points="467.3,61.2 463.8,64.2 467.3,68.4 470.7,65.0" fill="#fed26f" stroke="#fed26f" stroke-width="0.35" stroke-linejoin="round"/>
<polygon points="453.6,60.9 450.1,64.3 453.5,67.6 457.0,63.8" fill="#fed471" stroke="#fed471" stroke-width="0.35" stroke-linejoin="round"/>
<polygon points="460.4,60.8 457.0,63.8 460.4,67.5 463.8,64.2" fill="#fed472" stroke="#fed472" stroke-width="0.35" stroke-linejoin="round"/>
<polygon points="443.3,66.4 439.8,72.6 443.2,76.3 446.6,69.4" fill="#feb854" stroke="#feb854" stroke-width="0.35" stroke-linejoin="round"/>
<polygon points="477.5,66.5 474.1,69.8 477.6,77.2 481.0,73.0" fill="#feb652" stroke="#feb652" stroke-width="0.35" stroke-linejoin="round"/>
<polygon points="470.7,65.0 467.3,68.4 470.7,73.8 474.1,69.8" fill="#fec25d" stroke="#fec25d" stroke-width="0.35" stroke-linejoin="round"/>
<polygon points="450.1,64.3 446.6,69.4 450.0,73.2 453.5,67.6" fill="#fec460" stroke="#fec460" stroke-width="0.35" stroke-linejoin="round"/>
<polygon points="453.5,118.3 450.0,119.6 453.4,120.9 456.9,119.6" fill="#9a0026" stroke="#9a0026" stroke-width="0.35" stroke-linejoin="round"/>
<polygon points="470.7,73.8 467.2,80.5 470.6,117.0 474.1,85.3" fill="#fc5f2f" stroke="#fc5f2f" stroke-width="0.35" stroke-linejoin="round"/>
<polygon points="460.3,118.3 456.9,119.6 460.3,120.9 463.7,119.6" fill="#9a0026" stroke="#9a0026" stroke-width="0.35" stroke-linejoin="round"/>
<polygon points="467.2,118.3 463.7,119.6 467.2,120.9 470.6,119.6" fill="#9a0026" stroke="#9a0026" stroke-width="0.35" stroke-linejoin="round"/>
<polygon points="474.0,118.3 470.6,119.6 474.1,121.0 477.5,119.6" fill="#9a0026" stroke="#9a0026" stroke-width="0.35" stroke-linejoin="round"/>
<polygon points="450.0,73.2 446.6,83.7 450.1,116.9 453.4,79.8" fill="#fc6430" stroke="#fc6430" stroke-width="0.35" stroke-linejoin="round"/>
<polygon points="463.8,64.2 460.4,67.5 463.8,72.3 467.3,68.4" fill="#fec763" stroke="#fec763" stroke-width="0.35" stroke-linejoin="round"/>
<polygon points="457.0,63.8 453.5,67.6 456.9,71.8 460.4,67.5" fill="#fec965" stroke="#fec965" stroke-width="0.35" stroke-linejoin="round"/>
<polygon points="463.8,72.3 460.3,78.9 463.8,117.0 467.2,80.5" fill="#fd6e33" stroke="#fd6e33" stroke-width="0.35" stroke-linejoin="round"/>
<polygon points="456.9,71.8 453.4,79.8 456.9,116.9 460.3,78.9" fill="#fd7034" stroke="#fd7034" stroke-width="0.35" stroke-linejoin="round"/>
<polygon points="474.1,69.8 470.7,73.8 474.1,85.3 477.6,77.2" fill="#fea546" stroke="#fea546" stroke-width="0.35" stroke-linejoin="round"/>
<polygon points="446.6,69.4 443.2,76.3 446.6,83.7 450.0,73.2" fill="#fea948" stroke="#fea948" stroke-width="0.35" stroke-linejoin="round"/>
<polygon points="467.3,68.4 463.8,72.3 467.2,80.5 470.7,73.8" fill="#feb24f" stroke="#feb24f" stroke-width="0.35" stroke-linejoin="round"/>
<polygon points="453.5,67.6 450.0,73.2 453.4,79.8 456.9,71.8" fill="#feb551" stroke="#feb551" stroke-width="0.35" stroke-linejoin="round"/>
<polygon points="460.4,67.5 456.9,71.8 460.3,78.9 463.8,72.3" fill="#feb753" stroke="#feb753" stroke-width="0.35" stroke-linejoin="round"/>
<polygon points="456.9,119.6 453.4,120.9 456.8,122.3 460.3,120.9" fill="#9a0026" stroke="#9a0026" stroke-width="0.35" stroke-linejoin="round"/>
<polygon points="463.7,119.6 460.3,120.9 463.7,122.3 467.2,120.9" fill="#9a0026" stroke="#9a0026" stroke-width="0.35" stroke-linejoin="round"/>
<polygon points="470.6,119.6 467.2,120.9 470.6,122.3 474.1,121.0" fill="#9a0026" stroke="#9a0026" stroke-width="0.35" stroke-linejoin="round"/>
<polygon points="460.3,120.9 456.8,122.3 460.2,123.6 463.7,122.3" fill="#9a0026" stroke="#9a0026" stroke-width="0.35" stroke-linejoin="round"/>
<polygon points="467.2,120.9 463.7,122.3 467.2,123.7 470.6,122.3" fill="#9a0026" stroke="#9a0026" stroke-width="0.35" stroke-linejoin="round"/>
<polygon points="463.7,122.3 460.2,123.6 463.7,125.0 467.2,123.7" fill="#9a0026" stroke="#9a0026" stroke-width="0.35" stroke-linejoin="round"/>
<defs><linearGradient id="wg" x1="0" y1="84" x2="0" y2="119" gradientUnits="userSpaceOnUse"><stop offset="0" stop-color="#d81e1c" stop-opacity="0"/><stop offset="0.45" stop-color="#d81e1c" stop-opacity="0.5"/><stop offset="1" stop-color="#cf181e" stop-opacity="0.82"/></linearGradient></defs>
<polygon points="438.6,84 438.6,115 455,118.4 464.4,120.4 470.2,119.1 483,115.9 494.6,112.9 494.6,84" fill="url(#wg)"/>
<polygon points="438.6,114.7 464.4,125.5 494.6,112.8 483,115.7 476,117.9 470.2,118.9 464.4,120.3 459,119.0 455,118.3 447,116.6" fill="#a00e28"/>
<polyline points="401.3,103.9 463.6,128.9 526.7,104.1" fill="none" stroke="#b4b4ba" stroke-width="0.7"/>
<polyline points="401.3,103.9 399.6,37.6" fill="none" stroke="#a8a8b0" stroke-width="0.8"/>
<text x="397.20" y="64.50" font-size="5.10" text-anchor="end" font-weight="normal" fill="#262626" class="dj">125</text>
<text x="397.20" y="73.30" font-size="5.10" text-anchor="end" font-weight="normal" fill="#262626" class="dj">100</text>
<text x="397.20" y="81.90" font-size="5.10" text-anchor="end" font-weight="normal" fill="#262626" class="dj">75</text>
<text x="397.20" y="90.60" font-size="5.10" text-anchor="end" font-weight="normal" fill="#262626" class="dj">50</text>
<text x="397.20" y="99.20" font-size="5.10" text-anchor="end" font-weight="normal" fill="#262626" class="dj">25</text>
<text x="397.20" y="107.80" font-size="5.10" text-anchor="end" font-weight="normal" fill="#262626" class="dj">0</text>
<text x="403.00" y="115.80" font-size="5.10" text-anchor="middle" font-weight="normal" fill="#262626" class="dj">−1.0</text>
<text x="414.80" y="121.10" font-size="5.10" text-anchor="middle" font-weight="normal" fill="#262626" class="dj">−0.5</text>
<text x="427.90" y="125.80" font-size="5.10" text-anchor="middle" font-weight="normal" fill="#262626" class="dj">0.0</text>
<text x="442.40" y="131.50" font-size="5.10" text-anchor="middle" font-weight="normal" fill="#262626" class="dj">0.5</text>
<text x="456.60" y="138.20" font-size="5.10" text-anchor="middle" font-weight="normal" fill="#262626" class="dj">1.0</text>
<text x="473.30" y="138.30" font-size="5.10" text-anchor="middle" font-weight="normal" fill="#262626" class="dj">1.0</text>
<text x="486.40" y="132.30" font-size="5.10" text-anchor="middle" font-weight="normal" fill="#262626" class="dj">0.5</text>
<text x="501.00" y="125.80" font-size="5.10" text-anchor="middle" font-weight="normal" fill="#262626" class="dj">0.0</text>
<text x="514.50" y="120.40" font-size="5.10" text-anchor="middle" font-weight="normal" fill="#262626" class="dj">−0.5</text>
<text x="527.80" y="115.50" font-size="5.10" text-anchor="middle" font-weight="normal" fill="#262626" class="dj">−1.0</text>
<text x="411.80" y="135.60" font-size="7.70" text-anchor="middle" font-weight="bold" fill="#000" stroke="#000" stroke-width="0.3" >Input 2 (V)</text>
<text x="514.20" y="136.00" font-size="7.70" text-anchor="middle" font-weight="bold" fill="#000" stroke="#000" stroke-width="0.3" >Input 1 (V)</text>
<text x="0.00" y="0.00" font-size="7.00" text-anchor="middle" font-weight="bold" fill="#000" stroke="#000" stroke-width="0.3" transform="translate(383.4,74.6) rotate(-90)">Spiking rate (Hz)</text>
</svg>
</body></html>
